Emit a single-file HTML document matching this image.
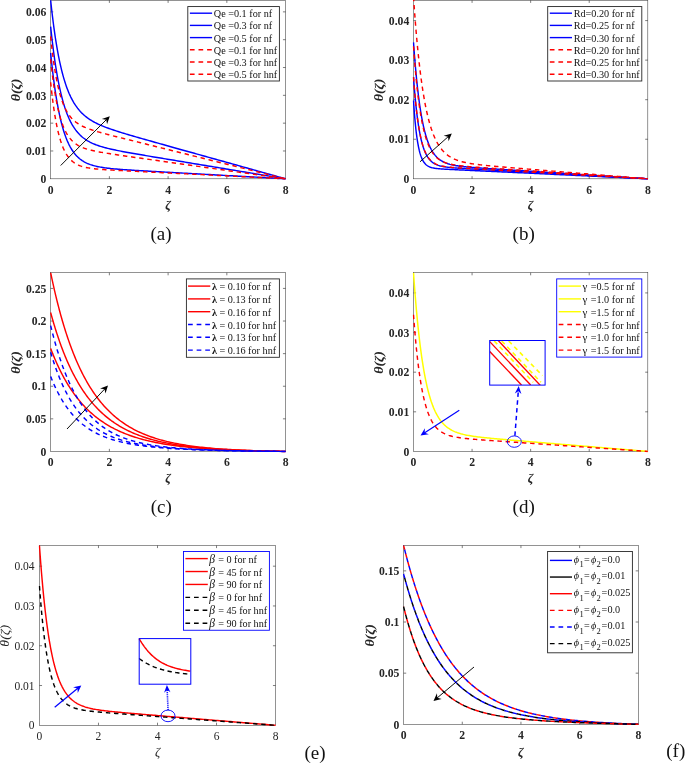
<!DOCTYPE html>
<html><head><meta charset="utf-8"><title>Figure</title><style>html,body{margin:0;padding:0;background:#fff}svg{display:block}</style></head><body>
<svg width="685" height="763" viewBox="0 0 685 763" font-family="'Liberation Serif', serif">
<rect width="685" height="763" fill="#fff"/>
<defs>
<clipPath id="ca"><rect x="49.65" y="0.00" width="236.90" height="179.80"/></clipPath>
<clipPath id="cb"><rect x="412.50" y="0.00" width="236.30" height="179.80"/></clipPath>
<clipPath id="cc"><rect x="49.65" y="272.40" width="236.90" height="180.05"/></clipPath>
<clipPath id="cd"><rect x="412.50" y="272.40" width="236.30" height="180.05"/></clipPath>
<clipPath id="ce"><rect x="38.45" y="545.20" width="238.10" height="181.10"/></clipPath>
<clipPath id="cf"><rect x="402.60" y="545.20" width="236.70" height="180.10"/></clipPath>
</defs>
<rect x="50.65" y="0.30" width="234.90" height="178.50" fill="none" stroke="#3a3a3a" stroke-width="0.55"/>
<text transform="translate(50.65 193.80) scale(1 1.14)" text-anchor="middle" font-size="11.7" font-weight="bold" fill="#262626">0</text>
<text transform="translate(109.38 193.80) scale(1 1.14)" text-anchor="middle" font-size="11.7" font-weight="bold" fill="#262626">2</text>
<text transform="translate(168.10 193.80) scale(1 1.14)" text-anchor="middle" font-size="11.7" font-weight="bold" fill="#262626">4</text>
<text transform="translate(226.83 193.80) scale(1 1.14)" text-anchor="middle" font-size="11.7" font-weight="bold" fill="#262626">6</text>
<text transform="translate(285.55 193.80) scale(1 1.14)" text-anchor="middle" font-size="11.7" font-weight="bold" fill="#262626">8</text>
<text transform="translate(46.45 183.00) scale(1 1.14)" text-anchor="end" font-size="11.7" font-weight="bold" fill="#262626">0</text>
<text transform="translate(46.45 155.18) scale(1 1.14)" text-anchor="end" font-size="11.7" font-weight="bold" fill="#262626">0.01</text>
<text transform="translate(46.45 127.36) scale(1 1.14)" text-anchor="end" font-size="11.7" font-weight="bold" fill="#262626">0.02</text>
<text transform="translate(46.45 99.54) scale(1 1.14)" text-anchor="end" font-size="11.7" font-weight="bold" fill="#262626">0.03</text>
<text transform="translate(46.45 71.72) scale(1 1.14)" text-anchor="end" font-size="11.7" font-weight="bold" fill="#262626">0.04</text>
<text transform="translate(46.45 43.89) scale(1 1.14)" text-anchor="end" font-size="11.7" font-weight="bold" fill="#262626">0.05</text>
<text transform="translate(46.45 16.07) scale(1 1.14)" text-anchor="end" font-size="11.7" font-weight="bold" fill="#262626">0.06</text>
<path d="M109.38 178.80v-2.6 M109.38 0.30v2.6 M168.10 178.80v-2.6 M168.10 0.30v2.6 M226.83 178.80v-2.6 M226.83 0.30v2.6 M50.65 150.98h2.6 M285.55 150.98h-2.6 M50.65 123.16h2.6 M285.55 123.16h-2.6 M50.65 95.34h2.6 M285.55 95.34h-2.6 M50.65 67.52h2.6 M285.55 67.52h-2.6 M50.65 39.69h2.6 M285.55 39.69h-2.6 M50.65 11.87h2.6 M285.55 11.87h-2.6" stroke="#262626" stroke-width="0.6" fill="none"/>
<text transform="translate(168.10 209.00) scale(1 1)" text-anchor="middle" font-size="12.8" font-style="italic" font-weight="bold" fill="#262626">ζ</text>
<text transform="translate(20.10 89.95) scale(1 1.12) rotate(-90)" text-anchor="middle" font-size="12.4" font-style="italic" font-weight="bold" fill="#262626">θ(ζ)</text>
<text x="161.00" y="240.00" text-anchor="middle" font-size="19" fill="#111">(a)</text>
<path d="M50.65 53.05 L50.67 53.25 L50.72 53.76 L50.80 54.52 L50.90 55.51 L51.02 56.71 L51.17 58.10 L51.33 59.67 L51.51 61.40 L51.72 63.29 L51.94 65.30 L52.18 67.45 L52.44 69.70 L52.72 72.06 L53.02 74.50 L53.33 77.01 L53.66 79.59 L54.01 82.22 L54.37 84.90 L54.75 87.60 L55.15 90.33 L55.56 93.07 L55.99 95.82 L56.44 98.55 L56.90 101.28 L57.37 103.98 L57.87 106.66 L58.37 109.30 L58.90 111.90 L59.43 114.45 L59.99 116.95 L60.55 119.40 L61.14 121.79 L61.73 124.12 L62.35 126.38 L62.97 128.57 L63.61 130.69 L64.27 132.75 L64.94 134.73 L65.62 136.63 L66.32 138.47 L67.03 140.22 L67.76 141.91 L68.50 143.52 L69.25 145.06 L70.02 146.53 L70.80 147.93 L71.60 149.26 L72.41 150.53 L73.23 151.72 L74.07 152.86 L74.92 153.93 L75.78 154.95 L76.66 155.91 L77.55 156.81 L78.45 157.66 L79.37 158.46 L80.30 159.21 L81.24 159.92 L82.19 160.58 L83.16 161.20 L84.15 161.78 L85.14 162.33 L86.15 162.84 L87.17 163.32 L88.20 163.76 L89.25 164.18 L90.31 164.57 L91.38 164.93 L92.46 165.27 L93.56 165.59 L94.67 165.89 L95.79 166.17 L96.93 166.43 L98.08 166.67 L99.24 166.90 L100.41 167.12 L101.59 167.32 L102.79 167.51 L104.00 167.69 L105.22 167.86 L106.45 168.03 L107.70 168.18 L108.96 168.32 L110.23 168.46 L111.51 168.60 L112.81 168.73 L114.11 168.85 L115.43 168.97 L116.76 169.08 L118.11 169.19 L119.46 169.30 L120.83 169.41 L122.21 169.51 L123.60 169.61 L125.00 169.71 L126.42 169.80 L127.84 169.90 L129.28 169.99 L130.73 170.09 L132.19 170.18 L133.67 170.27 L135.15 170.36 L136.65 170.46 L138.16 170.55 L139.68 170.64 L141.21 170.73 L142.76 170.82 L144.31 170.91 L145.88 171.00 L147.46 171.09 L149.05 171.18 L150.65 171.27 L152.26 171.37 L153.88 171.46 L155.52 171.55 L157.17 171.64 L158.83 171.74 L160.49 171.83 L162.18 171.93 L163.87 172.02 L165.57 172.12 L167.29 172.21 L169.01 172.31 L170.75 172.41 L172.50 172.50 L174.26 172.60 L176.03 172.70 L177.82 172.80 L179.61 172.90 L181.41 173.00 L183.23 173.10 L185.06 173.21 L186.90 173.31 L188.75 173.41 L190.61 173.51 L192.48 173.62 L194.36 173.72 L196.25 173.83 L198.16 173.94 L200.07 174.04 L202.00 174.15 L203.94 174.26 L205.89 174.37 L207.85 174.47 L209.82 174.58 L211.80 174.69 L213.79 174.81 L215.79 174.92 L217.81 175.03 L219.83 175.14 L221.87 175.26 L223.92 175.37 L225.97 175.48 L228.04 175.60 L230.12 175.71 L232.21 175.83 L234.31 175.95 L236.42 176.07 L238.54 176.18 L240.67 176.30 L242.82 176.42 L244.97 176.54 L247.14 176.66 L249.31 176.78 L251.50 176.90 L253.69 177.03 L255.90 177.15 L258.12 177.27 L260.35 177.40 L262.58 177.52 L264.83 177.65 L267.09 177.77 L269.36 177.90 L271.64 178.03 L273.94 178.15 L276.24 178.28 L278.55 178.41 L280.87 178.54 L283.21 178.67 L285.55 178.80" stroke="#0000ff" stroke-width="1.45" fill="none" stroke-linejoin="round" clip-path="url(#ca)"/>
<path d="M50.65 26.62 L50.67 26.82 L50.72 27.30 L50.80 28.03 L50.90 28.98 L51.02 30.13 L51.17 31.47 L51.33 32.98 L51.51 34.65 L51.72 36.46 L51.94 38.41 L52.18 40.48 L52.44 42.66 L52.72 44.94 L53.02 47.31 L53.33 49.76 L53.66 52.28 L54.01 54.85 L54.37 57.47 L54.75 60.13 L55.15 62.81 L55.56 65.52 L55.99 68.23 L56.44 70.95 L56.90 73.66 L57.37 76.36 L57.87 79.04 L58.37 81.69 L58.90 84.32 L59.43 86.90 L59.99 89.44 L60.55 91.94 L61.14 94.39 L61.73 96.78 L62.35 99.12 L62.97 101.40 L63.61 103.61 L64.27 105.76 L64.94 107.85 L65.62 109.87 L66.32 111.82 L67.03 113.71 L67.76 115.53 L68.50 117.28 L69.25 118.96 L70.02 120.57 L70.80 122.12 L71.60 123.61 L72.41 125.03 L73.23 126.39 L74.07 127.69 L74.92 128.93 L75.78 130.11 L76.66 131.23 L77.55 132.31 L78.45 133.33 L79.37 134.30 L80.30 135.22 L81.24 136.10 L82.19 136.94 L83.16 137.73 L84.15 138.48 L85.14 139.20 L86.15 139.88 L87.17 140.53 L88.20 141.14 L89.25 141.73 L90.31 142.29 L91.38 142.82 L92.46 143.33 L93.56 143.81 L94.67 144.27 L95.79 144.72 L96.93 145.14 L98.08 145.55 L99.24 145.94 L100.41 146.32 L101.59 146.68 L102.79 147.04 L104.00 147.38 L105.22 147.71 L106.45 148.03 L107.70 148.34 L108.96 148.65 L110.23 148.94 L111.51 149.24 L112.81 149.52 L114.11 149.81 L115.43 150.08 L116.76 150.36 L118.11 150.63 L119.46 150.90 L120.83 151.16 L122.21 151.43 L123.60 151.69 L125.00 151.95 L126.42 152.21 L127.84 152.47 L129.28 152.73 L130.73 152.99 L132.19 153.25 L133.67 153.50 L135.15 153.76 L136.65 154.02 L138.16 154.28 L139.68 154.55 L141.21 154.81 L142.76 155.07 L144.31 155.33 L145.88 155.60 L147.46 155.87 L149.05 156.13 L150.65 156.40 L152.26 156.68 L153.88 156.95 L155.52 157.22 L157.17 157.50 L158.83 157.77 L160.49 158.05 L162.18 158.33 L163.87 158.61 L165.57 158.90 L167.29 159.18 L169.01 159.47 L170.75 159.76 L172.50 160.05 L174.26 160.34 L176.03 160.64 L177.82 160.93 L179.61 161.23 L181.41 161.53 L183.23 161.83 L185.06 162.14 L186.90 162.44 L188.75 162.75 L190.61 163.06 L192.48 163.37 L194.36 163.68 L196.25 163.99 L198.16 164.31 L200.07 164.63 L202.00 164.95 L203.94 165.27 L205.89 165.59 L207.85 165.92 L209.82 166.24 L211.80 166.57 L213.79 166.90 L215.79 167.23 L217.81 167.57 L219.83 167.90 L221.87 168.24 L223.92 168.58 L225.97 168.92 L228.04 169.26 L230.12 169.61 L232.21 169.96 L234.31 170.30 L236.42 170.65 L238.54 171.01 L240.67 171.36 L242.82 171.71 L244.97 172.07 L247.14 172.43 L249.31 172.79 L251.50 173.15 L253.69 173.52 L255.90 173.88 L258.12 174.25 L260.35 174.62 L262.58 174.99 L264.83 175.36 L267.09 175.74 L269.36 176.12 L271.64 176.49 L273.94 176.87 L276.24 177.26 L278.55 177.64 L280.87 178.02 L283.21 178.41 L285.55 178.80" stroke="#0000ff" stroke-width="1.45" fill="none" stroke-linejoin="round" clip-path="url(#ca)"/>
<path d="M50.65 0.30 L50.67 0.49 L50.72 0.98 L50.80 1.70 L50.90 2.64 L51.02 3.78 L51.17 5.10 L51.33 6.59 L51.51 8.24 L51.72 10.04 L51.94 11.97 L52.18 14.03 L52.44 16.20 L52.72 18.46 L53.02 20.82 L53.33 23.26 L53.66 25.76 L54.01 28.33 L54.37 30.95 L54.75 33.60 L55.15 36.29 L55.56 39.00 L55.99 41.72 L56.44 44.45 L56.90 47.18 L57.37 49.90 L57.87 52.60 L58.37 55.28 L58.90 57.94 L59.43 60.56 L59.99 63.15 L60.55 65.69 L61.14 68.19 L61.73 70.64 L62.35 73.03 L62.97 75.37 L63.61 77.66 L64.27 79.88 L64.94 82.04 L65.62 84.14 L66.32 86.18 L67.03 88.15 L67.76 90.06 L68.50 91.90 L69.25 93.68 L70.02 95.39 L70.80 97.05 L71.60 98.64 L72.41 100.17 L73.23 101.63 L74.07 103.05 L74.92 104.40 L75.78 105.70 L76.66 106.94 L77.55 108.14 L78.45 109.28 L79.37 110.38 L80.30 111.43 L81.24 112.43 L82.19 113.39 L83.16 114.32 L84.15 115.20 L85.14 116.05 L86.15 116.86 L87.17 117.65 L88.20 118.40 L89.25 119.12 L90.31 119.81 L91.38 120.48 L92.46 121.13 L93.56 121.75 L94.67 122.36 L95.79 122.94 L96.93 123.51 L98.08 124.06 L99.24 124.60 L100.41 125.12 L101.59 125.63 L102.79 126.12 L104.00 126.61 L105.22 127.09 L106.45 127.56 L107.70 128.02 L108.96 128.48 L110.23 128.93 L111.51 129.37 L112.81 129.81 L114.11 130.25 L115.43 130.68 L116.76 131.11 L118.11 131.54 L119.46 131.97 L120.83 132.39 L122.21 132.82 L123.60 133.24 L125.00 133.67 L126.42 134.09 L127.84 134.51 L129.28 134.94 L130.73 135.36 L132.19 135.79 L133.67 136.22 L135.15 136.65 L136.65 137.08 L138.16 137.51 L139.68 137.95 L141.21 138.39 L142.76 138.83 L144.31 139.27 L145.88 139.71 L147.46 140.16 L149.05 140.61 L150.65 141.06 L152.26 141.52 L153.88 141.97 L155.52 142.43 L157.17 142.90 L158.83 143.36 L160.49 143.83 L162.18 144.30 L163.87 144.78 L165.57 145.26 L167.29 145.74 L169.01 146.22 L170.75 146.71 L172.50 147.20 L174.26 147.69 L176.03 148.18 L177.82 148.68 L179.61 149.19 L181.41 149.69 L183.23 150.20 L185.06 150.71 L186.90 151.22 L188.75 151.74 L190.61 152.26 L192.48 152.78 L194.36 153.31 L196.25 153.84 L198.16 154.37 L200.07 154.91 L202.00 155.45 L203.94 155.99 L205.89 156.53 L207.85 157.08 L209.82 157.63 L211.80 158.19 L213.79 158.74 L215.79 159.30 L217.81 159.87 L219.83 160.43 L221.87 161.00 L223.92 161.57 L225.97 162.15 L228.04 162.73 L230.12 163.31 L232.21 163.89 L234.31 164.48 L236.42 165.07 L238.54 165.66 L240.67 166.26 L242.82 166.86 L244.97 167.46 L247.14 168.06 L249.31 168.67 L251.50 169.28 L253.69 169.90 L255.90 170.51 L258.12 171.13 L260.35 171.75 L262.58 172.38 L264.83 173.01 L267.09 173.64 L269.36 174.28 L271.64 174.91 L273.94 175.55 L276.24 176.20 L278.55 176.84 L280.87 177.49 L283.21 178.14 L285.55 178.80" stroke="#0000ff" stroke-width="1.45" fill="none" stroke-linejoin="round" clip-path="url(#ca)"/>
<path d="M50.65 82.26 L50.67 82.46 L50.72 82.96 L50.80 83.71 L50.90 84.68 L51.02 85.85 L51.17 87.20 L51.33 88.72 L51.51 90.39 L51.72 92.19 L51.94 94.12 L52.18 96.15 L52.44 98.27 L52.72 100.47 L53.02 102.73 L53.33 105.04 L53.66 107.39 L54.01 109.77 L54.37 112.16 L54.75 114.56 L55.15 116.95 L55.56 119.32 L55.99 121.67 L56.44 123.99 L56.90 126.27 L57.37 128.50 L57.87 130.68 L58.37 132.81 L58.90 134.87 L59.43 136.87 L59.99 138.80 L60.55 140.66 L61.14 142.44 L61.73 144.16 L62.35 145.80 L62.97 147.36 L63.61 148.85 L64.27 150.26 L64.94 151.60 L65.62 152.87 L66.32 154.07 L67.03 155.20 L67.76 156.26 L68.50 157.26 L69.25 158.20 L70.02 159.07 L70.80 159.89 L71.60 160.66 L72.41 161.37 L73.23 162.03 L74.07 162.64 L74.92 163.21 L75.78 163.74 L76.66 164.23 L77.55 164.69 L78.45 165.10 L79.37 165.49 L80.30 165.85 L81.24 166.18 L82.19 166.48 L83.16 166.77 L84.15 167.03 L85.14 167.27 L86.15 167.49 L87.17 167.70 L88.20 167.89 L89.25 168.06 L90.31 168.23 L91.38 168.38 L92.46 168.53 L93.56 168.66 L94.67 168.79 L95.79 168.91 L96.93 169.02 L98.08 169.12 L99.24 169.23 L100.41 169.32 L101.59 169.42 L102.79 169.51 L104.00 169.59 L105.22 169.68 L106.45 169.76 L107.70 169.84 L108.96 169.92 L110.23 169.99 L111.51 170.07 L112.81 170.14 L114.11 170.22 L115.43 170.29 L116.76 170.36 L118.11 170.44 L119.46 170.51 L120.83 170.58 L122.21 170.65 L123.60 170.73 L125.00 170.80 L126.42 170.87 L127.84 170.94 L129.28 171.02 L130.73 171.09 L132.19 171.16 L133.67 171.24 L135.15 171.31 L136.65 171.39 L138.16 171.46 L139.68 171.54 L141.21 171.62 L142.76 171.69 L144.31 171.77 L145.88 171.85 L147.46 171.93 L149.05 172.01 L150.65 172.09 L152.26 172.17 L153.88 172.25 L155.52 172.33 L157.17 172.41 L158.83 172.50 L160.49 172.58 L162.18 172.66 L163.87 172.75 L165.57 172.83 L167.29 172.92 L169.01 173.00 L170.75 173.09 L172.50 173.18 L174.26 173.26 L176.03 173.35 L177.82 173.44 L179.61 173.53 L181.41 173.62 L183.23 173.71 L185.06 173.80 L186.90 173.89 L188.75 173.98 L190.61 174.08 L192.48 174.17 L194.36 174.26 L196.25 174.36 L198.16 174.45 L200.07 174.55 L202.00 174.64 L203.94 174.74 L205.89 174.84 L207.85 174.93 L209.82 175.03 L211.80 175.13 L213.79 175.23 L215.79 175.33 L217.81 175.43 L219.83 175.53 L221.87 175.63 L223.92 175.73 L225.97 175.84 L228.04 175.94 L230.12 176.04 L232.21 176.15 L234.31 176.25 L236.42 176.36 L238.54 176.46 L240.67 176.57 L242.82 176.67 L244.97 176.78 L247.14 176.89 L249.31 177.00 L251.50 177.11 L253.69 177.22 L255.90 177.33 L258.12 177.44 L260.35 177.55 L262.58 177.66 L264.83 177.77 L267.09 177.88 L269.36 177.99 L271.64 178.11 L273.94 178.22 L276.24 178.34 L278.55 178.45 L280.87 178.57 L283.21 178.68 L285.55 178.80" stroke="#ff0000" stroke-width="1.45" stroke-dasharray="4.4 3.8" fill="none" stroke-linejoin="round" clip-path="url(#ca)"/>
<path d="M50.65 59.17 L50.67 59.37 L50.72 59.87 L50.80 60.61 L50.90 61.58 L51.02 62.75 L51.17 64.10 L51.33 65.61 L51.51 67.28 L51.72 69.09 L51.94 71.01 L52.18 73.05 L52.44 75.18 L52.72 77.38 L53.02 79.66 L53.33 81.99 L53.66 84.36 L54.01 86.76 L54.37 89.19 L54.75 91.62 L55.15 94.05 L55.56 96.46 L55.99 98.86 L56.44 101.23 L56.90 103.57 L57.37 105.87 L57.87 108.12 L58.37 110.31 L58.90 112.45 L59.43 114.53 L59.99 116.54 L60.55 118.49 L61.14 120.37 L61.73 122.18 L62.35 123.91 L62.97 125.58 L63.61 127.17 L64.27 128.69 L64.94 130.14 L65.62 131.51 L66.32 132.82 L67.03 134.06 L67.76 135.24 L68.50 136.35 L69.25 137.40 L70.02 138.39 L70.80 139.32 L71.60 140.20 L72.41 141.03 L73.23 141.81 L74.07 142.54 L74.92 143.22 L75.78 143.87 L76.66 144.47 L77.55 145.04 L78.45 145.57 L79.37 146.08 L80.30 146.55 L81.24 146.99 L82.19 147.41 L83.16 147.80 L84.15 148.18 L85.14 148.53 L86.15 148.86 L87.17 149.18 L88.20 149.48 L89.25 149.77 L90.31 150.05 L91.38 150.32 L92.46 150.57 L93.56 150.82 L94.67 151.06 L95.79 151.29 L96.93 151.52 L98.08 151.74 L99.24 151.95 L100.41 152.17 L101.59 152.37 L102.79 152.58 L104.00 152.78 L105.22 152.98 L106.45 153.18 L107.70 153.38 L108.96 153.58 L110.23 153.78 L111.51 153.97 L112.81 154.17 L114.11 154.37 L115.43 154.56 L116.76 154.76 L118.11 154.96 L119.46 155.16 L120.83 155.36 L122.21 155.56 L123.60 155.76 L125.00 155.96 L126.42 156.17 L127.84 156.37 L129.28 156.58 L130.73 156.79 L132.19 157.00 L133.67 157.21 L135.15 157.42 L136.65 157.63 L138.16 157.85 L139.68 158.06 L141.21 158.28 L142.76 158.50 L144.31 158.72 L145.88 158.95 L147.46 159.17 L149.05 159.40 L150.65 159.63 L152.26 159.86 L153.88 160.09 L155.52 160.32 L157.17 160.55 L158.83 160.79 L160.49 161.03 L162.18 161.27 L163.87 161.51 L165.57 161.75 L167.29 161.99 L169.01 162.24 L170.75 162.48 L172.50 162.73 L174.26 162.98 L176.03 163.23 L177.82 163.49 L179.61 163.74 L181.41 164.00 L183.23 164.26 L185.06 164.52 L186.90 164.78 L188.75 165.04 L190.61 165.31 L192.48 165.57 L194.36 165.84 L196.25 166.11 L198.16 166.38 L200.07 166.65 L202.00 166.93 L203.94 167.20 L205.89 167.48 L207.85 167.76 L209.82 168.04 L211.80 168.32 L213.79 168.60 L215.79 168.89 L217.81 169.17 L219.83 169.46 L221.87 169.75 L223.92 170.04 L225.97 170.33 L228.04 170.63 L230.12 170.92 L232.21 171.22 L234.31 171.52 L236.42 171.82 L238.54 172.12 L240.67 172.42 L242.82 172.73 L244.97 173.03 L247.14 173.34 L249.31 173.65 L251.50 173.96 L253.69 174.27 L255.90 174.59 L258.12 174.90 L260.35 175.22 L262.58 175.54 L264.83 175.86 L267.09 176.18 L269.36 176.50 L271.64 176.82 L273.94 177.15 L276.24 177.48 L278.55 177.81 L280.87 178.14 L283.21 178.47 L285.55 178.80" stroke="#ff0000" stroke-width="1.45" stroke-dasharray="4.4 3.8" fill="none" stroke-linejoin="round" clip-path="url(#ca)"/>
<path d="M50.65 36.36 L50.67 36.56 L50.72 37.06 L50.80 37.82 L50.90 38.80 L51.02 39.98 L51.17 41.35 L51.33 42.89 L51.51 44.58 L51.72 46.41 L51.94 48.36 L52.18 50.41 L52.44 52.57 L52.72 54.80 L53.02 57.10 L53.33 59.45 L53.66 61.84 L54.01 64.26 L54.37 66.71 L54.75 69.15 L55.15 71.60 L55.56 74.03 L55.99 76.45 L56.44 78.83 L56.90 81.18 L57.37 83.48 L57.87 85.74 L58.37 87.95 L58.90 90.09 L59.43 92.18 L59.99 94.20 L60.55 96.15 L61.14 98.04 L61.73 99.85 L62.35 101.60 L62.97 103.27 L63.61 104.87 L64.27 106.41 L64.94 107.87 L65.62 109.26 L66.32 110.59 L67.03 111.85 L67.76 113.04 L68.50 114.18 L69.25 115.26 L70.02 116.28 L70.80 117.24 L71.60 118.16 L72.41 119.02 L73.23 119.84 L74.07 120.62 L74.92 121.35 L75.78 122.05 L76.66 122.71 L77.55 123.33 L78.45 123.93 L79.37 124.50 L80.30 125.04 L81.24 125.55 L82.19 126.04 L83.16 126.52 L84.15 126.97 L85.14 127.41 L86.15 127.83 L87.17 128.23 L88.20 128.63 L89.25 129.01 L90.31 129.39 L91.38 129.75 L92.46 130.11 L93.56 130.46 L94.67 130.81 L95.79 131.15 L96.93 131.49 L98.08 131.83 L99.24 132.16 L100.41 132.49 L101.59 132.82 L102.79 133.14 L104.00 133.47 L105.22 133.80 L106.45 134.12 L107.70 134.45 L108.96 134.78 L110.23 135.11 L111.51 135.44 L112.81 135.77 L114.11 136.11 L115.43 136.44 L116.76 136.78 L118.11 137.12 L119.46 137.46 L120.83 137.81 L122.21 138.15 L123.60 138.50 L125.00 138.85 L126.42 139.21 L127.84 139.56 L129.28 139.92 L130.73 140.29 L132.19 140.65 L133.67 141.02 L135.15 141.39 L136.65 141.76 L138.16 142.14 L139.68 142.52 L141.21 142.90 L142.76 143.28 L144.31 143.67 L145.88 144.06 L147.46 144.45 L149.05 144.85 L150.65 145.25 L152.26 145.65 L153.88 146.05 L155.52 146.46 L157.17 146.87 L158.83 147.28 L160.49 147.70 L162.18 148.11 L163.87 148.54 L165.57 148.96 L167.29 149.39 L169.01 149.82 L170.75 150.25 L172.50 150.68 L174.26 151.12 L176.03 151.56 L177.82 152.00 L179.61 152.45 L181.41 152.90 L183.23 153.35 L185.06 153.81 L186.90 154.26 L188.75 154.72 L190.61 155.19 L192.48 155.65 L194.36 156.12 L196.25 156.59 L198.16 157.06 L200.07 157.54 L202.00 158.02 L203.94 158.50 L205.89 158.99 L207.85 159.47 L209.82 159.96 L211.80 160.46 L213.79 160.95 L215.79 161.45 L217.81 161.95 L219.83 162.45 L221.87 162.96 L223.92 163.47 L225.97 163.98 L228.04 164.50 L230.12 165.01 L232.21 165.53 L234.31 166.06 L236.42 166.58 L238.54 167.11 L240.67 167.64 L242.82 168.17 L244.97 168.71 L247.14 169.25 L249.31 169.79 L251.50 170.33 L253.69 170.88 L255.90 171.43 L258.12 171.98 L260.35 172.53 L262.58 173.09 L264.83 173.65 L267.09 174.21 L269.36 174.77 L271.64 175.34 L273.94 175.91 L276.24 176.48 L278.55 177.06 L280.87 177.64 L283.21 178.22 L285.55 178.80" stroke="#ff0000" stroke-width="1.45" stroke-dasharray="4.4 3.8" fill="none" stroke-linejoin="round" clip-path="url(#ca)"/>
<path d="M60.70 165.50L106.58 119.43" stroke="#000000" stroke-width="0.95" fill="none"/>
<path d="M109.80 116.20L107.06 124.20L106.26 119.75L101.82 118.97Z" fill="#000000"/>
<rect x="187.80" y="6.57" width="91.60" height="74.43" fill="#fff" stroke="#262626" stroke-width="0.9"/>
<path d="M189.90 13.20H212.10" stroke="#0000ff" stroke-width="1.4" fill="none"/>
<text x="213.80" y="17.20" font-size="10.2" fill="#111" style="white-space:pre">Qe =0.1 for nf</text>
<path d="M189.90 25.40H212.10" stroke="#0000ff" stroke-width="1.4" fill="none"/>
<text x="213.80" y="29.40" font-size="10.2" fill="#111" style="white-space:pre">Qe =0.3 for nf</text>
<path d="M189.90 37.60H212.10" stroke="#0000ff" stroke-width="1.4" fill="none"/>
<text x="213.80" y="41.60" font-size="10.2" fill="#111" style="white-space:pre">Qe =0.5 for nf</text>
<path d="M189.90 49.80H212.10" stroke="#ff0000" stroke-width="1.4" stroke-dasharray="4.7 3.9" fill="none"/>
<text x="213.80" y="53.80" font-size="10.2" fill="#111" style="white-space:pre">Qe =0.1 for hnf</text>
<path d="M189.90 62.00H212.10" stroke="#ff0000" stroke-width="1.4" stroke-dasharray="4.7 3.9" fill="none"/>
<text x="213.80" y="66.00" font-size="10.2" fill="#111" style="white-space:pre">Qe =0.3 for hnf</text>
<path d="M189.90 74.20H212.10" stroke="#ff0000" stroke-width="1.4" stroke-dasharray="4.7 3.9" fill="none"/>
<text x="213.80" y="78.20" font-size="10.2" fill="#111" style="white-space:pre">Qe =0.5 for hnf</text>
<rect x="413.50" y="0.30" width="234.30" height="178.50" fill="none" stroke="#3a3a3a" stroke-width="0.55"/>
<text transform="translate(413.50 193.80) scale(1 1.14)" text-anchor="middle" font-size="11.7" font-weight="bold" fill="#262626">0</text>
<text transform="translate(472.07 193.80) scale(1 1.14)" text-anchor="middle" font-size="11.7" font-weight="bold" fill="#262626">2</text>
<text transform="translate(530.65 193.80) scale(1 1.14)" text-anchor="middle" font-size="11.7" font-weight="bold" fill="#262626">4</text>
<text transform="translate(589.22 193.80) scale(1 1.14)" text-anchor="middle" font-size="11.7" font-weight="bold" fill="#262626">6</text>
<text transform="translate(647.80 193.80) scale(1 1.14)" text-anchor="middle" font-size="11.7" font-weight="bold" fill="#262626">8</text>
<text transform="translate(409.30 183.00) scale(1 1.14)" text-anchor="end" font-size="11.7" font-weight="bold" fill="#262626">0</text>
<text transform="translate(409.30 143.45) scale(1 1.14)" text-anchor="end" font-size="11.7" font-weight="bold" fill="#262626">0.01</text>
<text transform="translate(409.30 103.90) scale(1 1.14)" text-anchor="end" font-size="11.7" font-weight="bold" fill="#262626">0.02</text>
<text transform="translate(409.30 64.34) scale(1 1.14)" text-anchor="end" font-size="11.7" font-weight="bold" fill="#262626">0.03</text>
<text transform="translate(409.30 24.79) scale(1 1.14)" text-anchor="end" font-size="11.7" font-weight="bold" fill="#262626">0.04</text>
<path d="M472.07 178.80v-2.6 M472.07 0.30v2.6 M530.65 178.80v-2.6 M530.65 0.30v2.6 M589.22 178.80v-2.6 M589.22 0.30v2.6 M413.50 139.25h2.6 M647.80 139.25h-2.6 M413.50 99.70h2.6 M647.80 99.70h-2.6 M413.50 60.14h2.6 M647.80 60.14h-2.6 M413.50 20.59h2.6 M647.80 20.59h-2.6" stroke="#262626" stroke-width="0.6" fill="none"/>
<text transform="translate(530.65 209.00) scale(1 1)" text-anchor="middle" font-size="12.8" font-style="italic" font-weight="bold" fill="#262626">ζ</text>
<text transform="translate(383.00 89.95) scale(1 1.12) rotate(-90)" text-anchor="middle" font-size="12.4" font-style="italic" font-weight="bold" fill="#262626">θ(ζ)</text>
<text x="523.70" y="240.20" text-anchor="middle" font-size="19" fill="#111">(b)</text>
<path d="M413.50 100.49 L413.52 100.81 L413.57 101.59 L413.65 102.76 L413.75 104.26 L413.87 106.04 L414.01 108.07 L414.18 110.32 L414.36 112.73 L414.57 115.28 L414.79 117.94 L415.03 120.67 L415.29 123.43 L415.57 126.22 L415.86 128.98 L416.17 131.72 L416.50 134.39 L416.85 137.00 L417.21 139.51 L417.59 141.92 L417.99 144.22 L418.40 146.41 L418.83 148.47 L419.27 150.40 L419.73 152.20 L420.21 153.88 L420.70 155.42 L421.20 156.85 L421.73 158.16 L422.26 159.35 L422.81 160.43 L423.38 161.41 L423.96 162.29 L424.56 163.09 L425.17 163.80 L425.79 164.43 L426.43 165.00 L427.08 165.50 L427.75 165.94 L428.43 166.33 L429.13 166.68 L429.84 166.98 L430.57 167.25 L431.30 167.49 L432.06 167.70 L432.82 167.88 L433.60 168.04 L434.40 168.19 L435.20 168.32 L436.02 168.43 L436.86 168.53 L437.71 168.63 L438.57 168.71 L439.44 168.79 L440.33 168.86 L441.23 168.93 L442.14 168.99 L443.07 169.05 L444.01 169.11 L444.96 169.17 L445.93 169.22 L446.91 169.28 L447.90 169.33 L448.91 169.38 L449.93 169.43 L450.96 169.48 L452.00 169.54 L453.06 169.59 L454.13 169.64 L455.21 169.69 L456.30 169.75 L457.41 169.80 L458.53 169.85 L459.66 169.91 L460.80 169.96 L461.96 170.02 L463.13 170.07 L464.31 170.13 L465.51 170.18 L466.71 170.24 L467.93 170.30 L469.16 170.36 L470.40 170.41 L471.66 170.47 L472.93 170.53 L474.21 170.59 L475.50 170.66 L476.80 170.72 L478.12 170.78 L479.45 170.84 L480.79 170.91 L482.14 170.97 L483.50 171.03 L484.88 171.10 L486.26 171.16 L487.66 171.23 L489.07 171.30 L490.50 171.36 L491.93 171.43 L493.38 171.50 L494.84 171.57 L496.31 171.64 L497.79 171.71 L499.28 171.78 L500.79 171.85 L502.30 171.92 L503.83 171.99 L505.37 172.07 L506.92 172.14 L508.48 172.21 L510.06 172.29 L511.64 172.36 L513.24 172.44 L514.85 172.52 L516.47 172.59 L518.10 172.67 L519.74 172.75 L521.40 172.83 L523.06 172.90 L524.74 172.98 L526.43 173.06 L528.13 173.14 L529.84 173.22 L531.56 173.31 L533.30 173.39 L535.04 173.47 L536.80 173.55 L538.56 173.64 L540.34 173.72 L542.13 173.81 L543.93 173.89 L545.74 173.98 L547.56 174.06 L549.40 174.15 L551.24 174.24 L553.10 174.32 L554.97 174.41 L556.84 174.50 L558.73 174.59 L560.63 174.68 L562.54 174.77 L564.46 174.86 L566.40 174.95 L568.34 175.04 L570.30 175.14 L572.26 175.23 L574.24 175.32 L576.22 175.42 L578.22 175.51 L580.23 175.61 L582.25 175.70 L584.28 175.80 L586.32 175.89 L588.37 175.99 L590.44 176.09 L592.51 176.19 L594.59 176.29 L596.69 176.38 L598.80 176.48 L600.91 176.58 L603.04 176.68 L605.18 176.79 L607.32 176.89 L609.48 176.99 L611.65 177.09 L613.83 177.19 L616.02 177.30 L618.23 177.40 L620.44 177.51 L622.66 177.61 L624.89 177.72 L627.14 177.82 L629.39 177.93 L631.65 178.04 L633.93 178.14 L636.22 178.25 L638.51 178.36 L640.82 178.47 L643.13 178.58 L645.46 178.69 L647.80 178.80" stroke="#0000ff" stroke-width="1.45" fill="none" stroke-linejoin="round" clip-path="url(#cb)"/>
<path d="M413.50 77.15 L413.52 77.44 L413.57 78.14 L413.65 79.19 L413.75 80.55 L413.87 82.18 L414.01 84.05 L414.18 86.14 L414.36 88.43 L414.57 90.87 L414.79 93.46 L415.03 96.16 L415.29 98.96 L415.57 101.83 L415.86 104.74 L416.17 107.69 L416.50 110.64 L416.85 113.59 L417.21 116.51 L417.59 119.39 L417.99 122.22 L418.40 124.99 L418.83 127.68 L419.27 130.29 L419.73 132.81 L420.21 135.23 L420.70 137.55 L421.20 139.76 L421.73 141.86 L422.26 143.86 L422.81 145.75 L423.38 147.53 L423.96 149.20 L424.56 150.76 L425.17 152.22 L425.79 153.58 L426.43 154.84 L427.08 156.01 L427.75 157.10 L428.43 158.09 L429.13 159.01 L429.84 159.85 L430.57 160.63 L431.30 161.33 L432.06 161.98 L432.82 162.56 L433.60 163.10 L434.40 163.58 L435.20 164.03 L436.02 164.43 L436.86 164.79 L437.71 165.12 L438.57 165.42 L439.44 165.69 L440.33 165.93 L441.23 166.15 L442.14 166.36 L443.07 166.54 L444.01 166.71 L444.96 166.87 L445.93 167.01 L446.91 167.14 L447.90 167.27 L448.91 167.38 L449.93 167.49 L450.96 167.59 L452.00 167.68 L453.06 167.77 L454.13 167.86 L455.21 167.94 L456.30 168.03 L457.41 168.10 L458.53 168.18 L459.66 168.26 L460.80 168.33 L461.96 168.40 L463.13 168.48 L464.31 168.55 L465.51 168.62 L466.71 168.69 L467.93 168.76 L469.16 168.83 L470.40 168.91 L471.66 168.98 L472.93 169.05 L474.21 169.12 L475.50 169.20 L476.80 169.27 L478.12 169.34 L479.45 169.42 L480.79 169.49 L482.14 169.57 L483.50 169.65 L484.88 169.72 L486.26 169.80 L487.66 169.88 L489.07 169.96 L490.50 170.04 L491.93 170.12 L493.38 170.20 L494.84 170.28 L496.31 170.36 L497.79 170.44 L499.28 170.53 L500.79 170.61 L502.30 170.69 L503.83 170.78 L505.37 170.87 L506.92 170.95 L508.48 171.04 L510.06 171.13 L511.64 171.22 L513.24 171.30 L514.85 171.39 L516.47 171.48 L518.10 171.57 L519.74 171.67 L521.40 171.76 L523.06 171.85 L524.74 171.94 L526.43 172.04 L528.13 172.13 L529.84 172.23 L531.56 172.32 L533.30 172.42 L535.04 172.52 L536.80 172.62 L538.56 172.71 L540.34 172.81 L542.13 172.91 L543.93 173.01 L545.74 173.11 L547.56 173.22 L549.40 173.32 L551.24 173.42 L553.10 173.52 L554.97 173.63 L556.84 173.73 L558.73 173.84 L560.63 173.94 L562.54 174.05 L564.46 174.16 L566.40 174.27 L568.34 174.37 L570.30 174.48 L572.26 174.59 L574.24 174.70 L576.22 174.81 L578.22 174.92 L580.23 175.04 L582.25 175.15 L584.28 175.26 L586.32 175.38 L588.37 175.49 L590.44 175.60 L592.51 175.72 L594.59 175.84 L596.69 175.95 L598.80 176.07 L600.91 176.19 L603.04 176.31 L605.18 176.43 L607.32 176.55 L609.48 176.67 L611.65 176.79 L613.83 176.91 L616.02 177.03 L618.23 177.15 L620.44 177.28 L622.66 177.40 L624.89 177.52 L627.14 177.65 L629.39 177.77 L631.65 177.90 L633.93 178.03 L636.22 178.15 L638.51 178.28 L640.82 178.41 L643.13 178.54 L645.46 178.67 L647.80 178.80" stroke="#0000ff" stroke-width="1.45" fill="none" stroke-linejoin="round" clip-path="url(#cb)"/>
<path d="M413.50 42.34 L413.52 42.63 L413.57 43.35 L413.65 44.42 L413.75 45.80 L413.87 47.48 L414.01 49.41 L414.18 51.58 L414.36 53.97 L414.57 56.55 L414.79 59.30 L415.03 62.21 L415.29 65.24 L415.57 68.38 L415.86 71.62 L416.17 74.93 L416.50 78.29 L416.85 81.69 L417.21 85.11 L417.59 88.53 L417.99 91.95 L418.40 95.34 L418.83 98.70 L419.27 102.02 L419.73 105.27 L420.21 108.47 L420.70 111.58 L421.20 114.62 L421.73 117.57 L422.26 120.42 L422.81 123.18 L423.38 125.84 L423.96 128.39 L424.56 130.84 L425.17 133.18 L425.79 135.41 L426.43 137.54 L427.08 139.56 L427.75 141.47 L428.43 143.28 L429.13 144.99 L429.84 146.60 L430.57 148.12 L431.30 149.54 L432.06 150.88 L432.82 152.12 L433.60 153.29 L434.40 154.38 L435.20 155.39 L436.02 156.33 L436.86 157.20 L437.71 158.01 L438.57 158.76 L439.44 159.46 L440.33 160.10 L441.23 160.69 L442.14 161.24 L443.07 161.75 L444.01 162.21 L444.96 162.64 L445.93 163.04 L446.91 163.40 L447.90 163.74 L448.91 164.05 L449.93 164.34 L450.96 164.60 L452.00 164.85 L453.06 165.08 L454.13 165.29 L455.21 165.49 L456.30 165.67 L457.41 165.84 L458.53 166.01 L459.66 166.16 L460.80 166.30 L461.96 166.44 L463.13 166.57 L464.31 166.70 L465.51 166.82 L466.71 166.93 L467.93 167.04 L469.16 167.15 L470.40 167.26 L471.66 167.36 L472.93 167.46 L474.21 167.56 L475.50 167.66 L476.80 167.75 L478.12 167.85 L479.45 167.94 L480.79 168.04 L482.14 168.13 L483.50 168.22 L484.88 168.32 L486.26 168.41 L487.66 168.51 L489.07 168.60 L490.50 168.69 L491.93 168.79 L493.38 168.88 L494.84 168.98 L496.31 169.07 L497.79 169.17 L499.28 169.27 L500.79 169.36 L502.30 169.46 L503.83 169.56 L505.37 169.66 L506.92 169.76 L508.48 169.86 L510.06 169.96 L511.64 170.06 L513.24 170.17 L514.85 170.27 L516.47 170.37 L518.10 170.48 L519.74 170.58 L521.40 170.69 L523.06 170.80 L524.74 170.91 L526.43 171.01 L528.13 171.12 L529.84 171.23 L531.56 171.34 L533.30 171.45 L535.04 171.57 L536.80 171.68 L538.56 171.79 L540.34 171.91 L542.13 172.02 L543.93 172.14 L545.74 172.25 L547.56 172.37 L549.40 172.49 L551.24 172.61 L553.10 172.73 L554.97 172.84 L556.84 172.97 L558.73 173.09 L560.63 173.21 L562.54 173.33 L564.46 173.45 L566.40 173.58 L568.34 173.70 L570.30 173.83 L572.26 173.95 L574.24 174.08 L576.22 174.21 L578.22 174.34 L580.23 174.47 L582.25 174.60 L584.28 174.73 L586.32 174.86 L588.37 174.99 L590.44 175.12 L592.51 175.25 L594.59 175.39 L596.69 175.52 L598.80 175.66 L600.91 175.79 L603.04 175.93 L605.18 176.07 L607.32 176.20 L609.48 176.34 L611.65 176.48 L613.83 176.62 L616.02 176.76 L618.23 176.90 L620.44 177.04 L622.66 177.19 L624.89 177.33 L627.14 177.47 L629.39 177.62 L631.65 177.76 L633.93 177.91 L636.22 178.06 L638.51 178.20 L640.82 178.35 L643.13 178.50 L645.46 178.65 L647.80 178.80" stroke="#0000ff" stroke-width="1.45" fill="none" stroke-linejoin="round" clip-path="url(#cb)"/>
<path d="M413.50 77.15 L413.52 77.43 L413.57 78.13 L413.65 79.18 L413.75 80.53 L413.87 82.15 L414.01 84.02 L414.18 86.10 L414.36 88.38 L414.57 90.81 L414.79 93.39 L415.03 96.08 L415.29 98.87 L415.57 101.72 L415.86 104.63 L416.17 107.56 L416.50 110.50 L416.85 113.43 L417.21 116.34 L417.59 119.21 L417.99 122.03 L418.40 124.78 L418.83 127.47 L419.27 130.06 L419.73 132.57 L420.21 134.98 L420.70 137.29 L421.20 139.49 L421.73 141.59 L422.26 143.58 L422.81 145.46 L423.38 147.23 L423.96 148.89 L424.56 150.45 L425.17 151.91 L425.79 153.26 L426.43 154.52 L427.08 155.69 L427.75 156.77 L428.43 157.76 L429.13 158.68 L429.84 159.52 L430.57 160.29 L431.30 160.99 L432.06 161.63 L432.82 162.22 L433.60 162.75 L434.40 163.24 L435.20 163.68 L436.02 164.08 L436.86 164.44 L437.71 164.77 L438.57 165.07 L439.44 165.34 L440.33 165.59 L441.23 165.81 L442.14 166.02 L443.07 166.20 L444.01 166.37 L444.96 166.53 L445.93 166.67 L446.91 166.81 L447.90 166.93 L448.91 167.05 L449.93 167.15 L450.96 167.26 L452.00 167.35 L453.06 167.45 L454.13 167.53 L455.21 167.62 L456.30 167.70 L457.41 167.78 L458.53 167.86 L459.66 167.94 L460.80 168.01 L461.96 168.09 L463.13 168.16 L464.31 168.24 L465.51 168.31 L466.71 168.39 L467.93 168.46 L469.16 168.53 L470.40 168.61 L471.66 168.68 L472.93 168.76 L474.21 168.83 L475.50 168.91 L476.80 168.98 L478.12 169.06 L479.45 169.13 L480.79 169.21 L482.14 169.29 L483.50 169.37 L484.88 169.45 L486.26 169.53 L487.66 169.61 L489.07 169.69 L490.50 169.77 L491.93 169.85 L493.38 169.94 L494.84 170.02 L496.31 170.10 L497.79 170.19 L499.28 170.28 L500.79 170.36 L502.30 170.45 L503.83 170.54 L505.37 170.63 L506.92 170.71 L508.48 170.80 L510.06 170.89 L511.64 170.99 L513.24 171.08 L514.85 171.17 L516.47 171.26 L518.10 171.36 L519.74 171.45 L521.40 171.55 L523.06 171.64 L524.74 171.74 L526.43 171.83 L528.13 171.93 L529.84 172.03 L531.56 172.13 L533.30 172.23 L535.04 172.33 L536.80 172.43 L538.56 172.53 L540.34 172.63 L542.13 172.74 L543.93 172.84 L545.74 172.94 L547.56 173.05 L549.40 173.15 L551.24 173.26 L553.10 173.36 L554.97 173.47 L556.84 173.58 L558.73 173.69 L560.63 173.80 L562.54 173.91 L564.46 174.02 L566.40 174.13 L568.34 174.24 L570.30 174.35 L572.26 174.46 L574.24 174.58 L576.22 174.69 L578.22 174.81 L580.23 174.92 L582.25 175.04 L584.28 175.15 L586.32 175.27 L588.37 175.39 L590.44 175.51 L592.51 175.63 L594.59 175.75 L596.69 175.87 L598.80 175.99 L600.91 176.11 L603.04 176.23 L605.18 176.35 L607.32 176.48 L609.48 176.60 L611.65 176.73 L613.83 176.85 L616.02 176.98 L618.23 177.10 L620.44 177.23 L622.66 177.36 L624.89 177.49 L627.14 177.61 L629.39 177.74 L631.65 177.87 L633.93 178.00 L636.22 178.14 L638.51 178.27 L640.82 178.40 L643.13 178.53 L645.46 178.67 L647.80 178.80" stroke="#ff0000" stroke-width="1.45" stroke-dasharray="4.4 3.8" fill="none" stroke-linejoin="round" clip-path="url(#cb)"/>
<path d="M413.50 46.30 L413.52 46.59 L413.57 47.31 L413.65 48.38 L413.75 49.77 L413.87 51.44 L414.01 53.38 L414.18 55.56 L414.36 57.94 L414.57 60.52 L414.79 63.27 L415.03 66.16 L415.29 69.18 L415.57 72.30 L415.86 75.51 L416.17 78.79 L416.50 82.11 L416.85 85.47 L417.21 88.84 L417.59 92.21 L417.99 95.57 L418.40 98.89 L418.83 102.18 L419.27 105.41 L419.73 108.58 L420.21 111.68 L420.70 114.71 L421.20 117.64 L421.73 120.48 L422.26 123.23 L422.81 125.87 L423.38 128.42 L423.96 130.85 L424.56 133.18 L425.17 135.40 L425.79 137.51 L426.43 139.51 L427.08 141.41 L427.75 143.21 L428.43 144.90 L429.13 146.49 L429.84 147.99 L430.57 149.39 L431.30 150.70 L432.06 151.93 L432.82 153.07 L433.60 154.13 L434.40 155.12 L435.20 156.04 L436.02 156.89 L436.86 157.68 L437.71 158.41 L438.57 159.08 L439.44 159.70 L440.33 160.28 L441.23 160.80 L442.14 161.29 L443.07 161.74 L444.01 162.15 L444.96 162.53 L445.93 162.88 L446.91 163.20 L447.90 163.50 L448.91 163.77 L449.93 164.03 L450.96 164.26 L452.00 164.48 L453.06 164.68 L454.13 164.87 L455.21 165.05 L456.30 165.22 L457.41 165.37 L458.53 165.52 L459.66 165.66 L460.80 165.80 L461.96 165.92 L463.13 166.05 L464.31 166.16 L465.51 166.28 L466.71 166.39 L467.93 166.50 L469.16 166.60 L470.40 166.70 L471.66 166.80 L472.93 166.90 L474.21 167.00 L475.50 167.10 L476.80 167.20 L478.12 167.30 L479.45 167.39 L480.79 167.49 L482.14 167.59 L483.50 167.68 L484.88 167.78 L486.26 167.88 L487.66 167.97 L489.07 168.07 L490.50 168.17 L491.93 168.27 L493.38 168.37 L494.84 168.47 L496.31 168.57 L497.79 168.67 L499.28 168.77 L500.79 168.87 L502.30 168.97 L503.83 169.08 L505.37 169.18 L506.92 169.29 L508.48 169.39 L510.06 169.50 L511.64 169.61 L513.24 169.71 L514.85 169.82 L516.47 169.93 L518.10 170.04 L519.74 170.15 L521.40 170.26 L523.06 170.38 L524.74 170.49 L526.43 170.60 L528.13 170.72 L529.84 170.83 L531.56 170.95 L533.30 171.07 L535.04 171.19 L536.80 171.30 L538.56 171.42 L540.34 171.54 L542.13 171.66 L543.93 171.79 L545.74 171.91 L547.56 172.03 L549.40 172.16 L551.24 172.28 L553.10 172.41 L554.97 172.53 L556.84 172.66 L558.73 172.79 L560.63 172.91 L562.54 173.04 L564.46 173.17 L566.40 173.30 L568.34 173.43 L570.30 173.57 L572.26 173.70 L574.24 173.83 L576.22 173.97 L578.22 174.10 L580.23 174.24 L582.25 174.37 L584.28 174.51 L586.32 174.65 L588.37 174.79 L590.44 174.93 L592.51 175.07 L594.59 175.21 L596.69 175.35 L598.80 175.49 L600.91 175.63 L603.04 175.78 L605.18 175.92 L607.32 176.07 L609.48 176.21 L611.65 176.36 L613.83 176.51 L616.02 176.65 L618.23 176.80 L620.44 176.95 L622.66 177.10 L624.89 177.25 L627.14 177.40 L629.39 177.56 L631.65 177.71 L633.93 177.86 L636.22 178.02 L638.51 178.17 L640.82 178.33 L643.13 178.48 L645.46 178.64 L647.80 178.80" stroke="#ff0000" stroke-width="1.45" stroke-dasharray="4.4 3.8" fill="none" stroke-linejoin="round" clip-path="url(#cb)"/>
<path d="M413.50 -3.14 L413.52 -2.84 L413.57 -2.09 L413.65 -0.97 L413.75 0.49 L413.87 2.26 L414.01 4.31 L414.18 6.62 L414.36 9.16 L414.57 11.93 L414.79 14.90 L415.03 18.05 L415.29 21.37 L415.57 24.83 L415.86 28.41 L416.17 32.10 L416.50 35.89 L416.85 39.74 L417.21 43.66 L417.59 47.63 L417.99 51.62 L418.40 55.62 L418.83 59.63 L419.27 63.63 L419.73 67.60 L420.21 71.54 L420.70 75.44 L421.20 79.28 L421.73 83.06 L422.26 86.77 L422.81 90.41 L423.38 93.96 L423.96 97.42 L424.56 100.79 L425.17 104.06 L425.79 107.22 L426.43 110.29 L427.08 113.24 L427.75 116.09 L428.43 118.84 L429.13 121.47 L429.84 123.99 L430.57 126.41 L431.30 128.72 L432.06 130.92 L432.82 133.02 L433.60 135.01 L434.40 136.91 L435.20 138.70 L436.02 140.41 L436.86 142.02 L437.71 143.54 L438.57 144.98 L439.44 146.33 L440.33 147.61 L441.23 148.81 L442.14 149.93 L443.07 150.99 L444.01 151.98 L444.96 152.91 L445.93 153.78 L446.91 154.59 L447.90 155.35 L448.91 156.07 L449.93 156.73 L450.96 157.35 L452.00 157.93 L453.06 158.47 L454.13 158.98 L455.21 159.45 L456.30 159.89 L457.41 160.31 L458.53 160.69 L459.66 161.05 L460.80 161.39 L461.96 161.71 L463.13 162.01 L464.31 162.29 L465.51 162.55 L466.71 162.81 L467.93 163.04 L469.16 163.27 L470.40 163.48 L471.66 163.68 L472.93 163.88 L474.21 164.06 L475.50 164.24 L476.80 164.41 L478.12 164.58 L479.45 164.74 L480.79 164.90 L482.14 165.05 L483.50 165.20 L484.88 165.34 L486.26 165.49 L487.66 165.63 L489.07 165.76 L490.50 165.90 L491.93 166.04 L493.38 166.17 L494.84 166.30 L496.31 166.43 L497.79 166.57 L499.28 166.70 L500.79 166.83 L502.30 166.96 L503.83 167.09 L505.37 167.22 L506.92 167.35 L508.48 167.48 L510.06 167.61 L511.64 167.74 L513.24 167.88 L514.85 168.01 L516.47 168.14 L518.10 168.28 L519.74 168.41 L521.40 168.55 L523.06 168.68 L524.74 168.82 L526.43 168.96 L528.13 169.10 L529.84 169.24 L531.56 169.38 L533.30 169.52 L535.04 169.66 L536.80 169.80 L538.56 169.95 L540.34 170.09 L542.13 170.24 L543.93 170.38 L545.74 170.53 L547.56 170.68 L549.40 170.83 L551.24 170.98 L553.10 171.13 L554.97 171.28 L556.84 171.43 L558.73 171.58 L560.63 171.74 L562.54 171.89 L564.46 172.05 L566.40 172.20 L568.34 172.36 L570.30 172.52 L572.26 172.68 L574.24 172.84 L576.22 173.00 L578.22 173.16 L580.23 173.32 L582.25 173.49 L584.28 173.65 L586.32 173.82 L588.37 173.98 L590.44 174.15 L592.51 174.32 L594.59 174.49 L596.69 174.66 L598.80 174.83 L600.91 175.00 L603.04 175.17 L605.18 175.35 L607.32 175.52 L609.48 175.70 L611.65 175.87 L613.83 176.05 L616.02 176.23 L618.23 176.40 L620.44 176.58 L622.66 176.76 L624.89 176.94 L627.14 177.13 L629.39 177.31 L631.65 177.49 L633.93 177.68 L636.22 177.86 L638.51 178.05 L640.82 178.23 L643.13 178.42 L645.46 178.61 L647.80 178.80" stroke="#ff0000" stroke-width="1.45" stroke-dasharray="4.4 3.8" fill="none" stroke-linejoin="round" clip-path="url(#cb)"/>
<path d="M420.00 161.80L448.39 136.53" stroke="#000000" stroke-width="0.95" fill="none"/>
<path d="M451.80 133.50L448.58 141.32L448.05 136.83L443.66 135.79Z" fill="#000000"/>
<rect x="547.70" y="6.57" width="94.10" height="74.43" fill="#fff" stroke="#262626" stroke-width="0.9"/>
<path d="M549.80 13.20H572.00" stroke="#0000ff" stroke-width="1.4" fill="none"/>
<text x="573.70" y="17.20" font-size="10.2" fill="#111" style="white-space:pre">Rd=0.20 for nf</text>
<path d="M549.80 25.40H572.00" stroke="#0000ff" stroke-width="1.4" fill="none"/>
<text x="573.70" y="29.40" font-size="10.2" fill="#111" style="white-space:pre">Rd=0.25 for nf</text>
<path d="M549.80 37.60H572.00" stroke="#0000ff" stroke-width="1.4" fill="none"/>
<text x="573.70" y="41.60" font-size="10.2" fill="#111" style="white-space:pre">Rd=0.30 for nf</text>
<path d="M549.80 49.80H572.00" stroke="#ff0000" stroke-width="1.4" stroke-dasharray="4.7 3.9" fill="none"/>
<text x="573.70" y="53.80" font-size="10.2" fill="#111" style="white-space:pre">Rd=0.20 for hnf</text>
<path d="M549.80 62.00H572.00" stroke="#ff0000" stroke-width="1.4" stroke-dasharray="4.7 3.9" fill="none"/>
<text x="573.70" y="66.00" font-size="10.2" fill="#111" style="white-space:pre">Rd=0.25 for hnf</text>
<path d="M549.80 74.20H572.00" stroke="#ff0000" stroke-width="1.4" stroke-dasharray="4.7 3.9" fill="none"/>
<text x="573.70" y="78.20" font-size="10.2" fill="#111" style="white-space:pre">Rd=0.30 for hnf</text>
<rect x="50.65" y="272.70" width="234.90" height="178.75" fill="none" stroke="#3a3a3a" stroke-width="0.55"/>
<text transform="translate(50.65 466.45) scale(1 1.14)" text-anchor="middle" font-size="11.7" font-weight="bold" fill="#262626">0</text>
<text transform="translate(109.38 466.45) scale(1 1.14)" text-anchor="middle" font-size="11.7" font-weight="bold" fill="#262626">2</text>
<text transform="translate(168.10 466.45) scale(1 1.14)" text-anchor="middle" font-size="11.7" font-weight="bold" fill="#262626">4</text>
<text transform="translate(226.83 466.45) scale(1 1.14)" text-anchor="middle" font-size="11.7" font-weight="bold" fill="#262626">6</text>
<text transform="translate(285.55 466.45) scale(1 1.14)" text-anchor="middle" font-size="11.7" font-weight="bold" fill="#262626">8</text>
<text transform="translate(46.45 455.65) scale(1 1.14)" text-anchor="end" font-size="11.7" font-weight="bold" fill="#262626">0</text>
<text transform="translate(46.45 423.04) scale(1 1.14)" text-anchor="end" font-size="11.7" font-weight="bold" fill="#262626">0.05</text>
<text transform="translate(46.45 390.44) scale(1 1.14)" text-anchor="end" font-size="11.7" font-weight="bold" fill="#262626">0.1</text>
<text transform="translate(46.45 357.83) scale(1 1.14)" text-anchor="end" font-size="11.7" font-weight="bold" fill="#262626">0.15</text>
<text transform="translate(46.45 325.22) scale(1 1.14)" text-anchor="end" font-size="11.7" font-weight="bold" fill="#262626">0.2</text>
<text transform="translate(46.45 292.62) scale(1 1.14)" text-anchor="end" font-size="11.7" font-weight="bold" fill="#262626">0.25</text>
<path d="M109.38 451.45v-2.6 M109.38 272.70v2.6 M168.10 451.45v-2.6 M168.10 272.70v2.6 M226.83 451.45v-2.6 M226.83 272.70v2.6 M50.65 418.84h2.6 M285.55 418.84h-2.6 M50.65 386.24h2.6 M285.55 386.24h-2.6 M50.65 353.63h2.6 M285.55 353.63h-2.6 M50.65 321.02h2.6 M285.55 321.02h-2.6 M50.65 288.42h2.6 M285.55 288.42h-2.6" stroke="#262626" stroke-width="0.6" fill="none"/>
<text transform="translate(168.10 482.00) scale(1 1)" text-anchor="middle" font-size="12.8" font-style="italic" font-weight="bold" fill="#262626">ζ</text>
<text transform="translate(20.10 362.47) scale(1 1.12) rotate(-90)" text-anchor="middle" font-size="12.4" font-style="italic" font-weight="bold" fill="#262626">θ(ζ)</text>
<text x="161.20" y="512.80" text-anchor="middle" font-size="19" fill="#111">(c)</text>
<path d="M50.65 348.41 L50.67 348.47 L50.72 348.60 L50.80 348.80 L50.90 349.07 L51.02 349.39 L51.17 349.77 L51.33 350.20 L51.51 350.67 L51.72 351.20 L51.94 351.77 L52.18 352.39 L52.44 353.04 L52.72 353.74 L53.02 354.47 L53.33 355.24 L53.66 356.05 L54.01 356.89 L54.37 357.76 L54.75 358.66 L55.15 359.58 L55.56 360.54 L55.99 361.52 L56.44 362.52 L56.90 363.55 L57.37 364.60 L57.87 365.67 L58.37 366.75 L58.90 367.85 L59.43 368.97 L59.99 370.10 L60.55 371.24 L61.14 372.40 L61.73 373.56 L62.35 374.73 L62.97 375.91 L63.61 377.10 L64.27 378.29 L64.94 379.49 L65.62 380.69 L66.32 381.89 L67.03 383.09 L67.76 384.30 L68.50 385.50 L69.25 386.70 L70.02 387.89 L70.80 389.09 L71.60 390.28 L72.41 391.46 L73.23 392.64 L74.07 393.81 L74.92 394.97 L75.78 396.13 L76.66 397.27 L77.55 398.41 L78.45 399.54 L79.37 400.66 L80.30 401.77 L81.24 402.86 L82.19 403.95 L83.16 405.02 L84.15 406.08 L85.14 407.13 L86.15 408.16 L87.17 409.18 L88.20 410.19 L89.25 411.19 L90.31 412.17 L91.38 413.13 L92.46 414.08 L93.56 415.02 L94.67 415.94 L95.79 416.85 L96.93 417.74 L98.08 418.62 L99.24 419.48 L100.41 420.33 L101.59 421.16 L102.79 421.97 L104.00 422.77 L105.22 423.56 L106.45 424.33 L107.70 425.09 L108.96 425.83 L110.23 426.56 L111.51 427.27 L112.81 427.96 L114.11 428.65 L115.43 429.31 L116.76 429.97 L118.11 430.61 L119.46 431.23 L120.83 431.84 L122.21 432.44 L123.60 433.02 L125.00 433.59 L126.42 434.15 L127.84 434.69 L129.28 435.22 L130.73 435.74 L132.19 436.24 L133.67 436.73 L135.15 437.21 L136.65 437.68 L138.16 438.14 L139.68 438.58 L141.21 439.01 L142.76 439.43 L144.31 439.84 L145.88 440.24 L147.46 440.63 L149.05 441.01 L150.65 441.37 L152.26 441.73 L153.88 442.08 L155.52 442.42 L157.17 442.74 L158.83 443.06 L160.49 443.37 L162.18 443.67 L163.87 443.96 L165.57 444.25 L167.29 444.52 L169.01 444.79 L170.75 445.04 L172.50 445.29 L174.26 445.54 L176.03 445.77 L177.82 446.00 L179.61 446.22 L181.41 446.44 L183.23 446.64 L185.06 446.84 L186.90 447.04 L188.75 447.23 L190.61 447.41 L192.48 447.58 L194.36 447.75 L196.25 447.92 L198.16 448.08 L200.07 448.23 L202.00 448.38 L203.94 448.52 L205.89 448.66 L207.85 448.80 L209.82 448.93 L211.80 449.05 L213.79 449.17 L215.79 449.29 L217.81 449.40 L219.83 449.51 L221.87 449.61 L223.92 449.72 L225.97 449.81 L228.04 449.91 L230.12 450.00 L232.21 450.09 L234.31 450.17 L236.42 450.25 L238.54 450.33 L240.67 450.40 L242.82 450.48 L244.97 450.55 L247.14 450.62 L249.31 450.68 L251.50 450.74 L253.69 450.80 L255.90 450.86 L258.12 450.92 L260.35 450.97 L262.58 451.02 L264.83 451.07 L267.09 451.12 L269.36 451.17 L271.64 451.21 L273.94 451.26 L276.24 451.30 L278.55 451.34 L280.87 451.38 L283.21 451.41 L285.55 451.45" stroke="#ff0000" stroke-width="1.45" fill="none" stroke-linejoin="round" clip-path="url(#cc)"/>
<path d="M50.65 312.55 L50.67 312.62 L50.72 312.81 L50.80 313.09 L50.90 313.46 L51.02 313.91 L51.17 314.43 L51.33 315.03 L51.51 315.70 L51.72 316.43 L51.94 317.22 L52.18 318.08 L52.44 318.99 L52.72 319.96 L53.02 320.98 L53.33 322.06 L53.66 323.18 L54.01 324.34 L54.37 325.55 L54.75 326.81 L55.15 328.10 L55.56 329.43 L55.99 330.79 L56.44 332.18 L56.90 333.61 L57.37 335.07 L57.87 336.55 L58.37 338.05 L58.90 339.58 L59.43 341.13 L59.99 342.70 L60.55 344.28 L61.14 345.88 L61.73 347.50 L62.35 349.12 L62.97 350.76 L63.61 352.40 L64.27 354.05 L64.94 355.70 L65.62 357.36 L66.32 359.02 L67.03 360.68 L67.76 362.34 L68.50 364.00 L69.25 365.65 L70.02 367.30 L70.80 368.94 L71.60 370.58 L72.41 372.21 L73.23 373.83 L74.07 375.44 L74.92 377.03 L75.78 378.62 L76.66 380.19 L77.55 381.75 L78.45 383.30 L79.37 384.83 L80.30 386.34 L81.24 387.84 L82.19 389.32 L83.16 390.79 L84.15 392.23 L85.14 393.66 L86.15 395.07 L87.17 396.46 L88.20 397.83 L89.25 399.17 L90.31 400.50 L91.38 401.81 L92.46 403.10 L93.56 404.37 L94.67 405.61 L95.79 406.83 L96.93 408.04 L98.08 409.22 L99.24 410.38 L100.41 411.51 L101.59 412.63 L102.79 413.72 L104.00 414.80 L105.22 415.85 L106.45 416.88 L107.70 417.89 L108.96 418.88 L110.23 419.84 L111.51 420.79 L112.81 421.71 L114.11 422.62 L115.43 423.50 L116.76 424.36 L118.11 425.21 L119.46 426.03 L120.83 426.83 L122.21 427.62 L123.60 428.38 L125.00 429.13 L126.42 429.86 L127.84 430.57 L129.28 431.26 L130.73 431.93 L132.19 432.59 L133.67 433.23 L135.15 433.85 L136.65 434.45 L138.16 435.04 L139.68 435.61 L141.21 436.17 L142.76 436.71 L144.31 437.24 L145.88 437.75 L147.46 438.24 L149.05 438.73 L150.65 439.19 L152.26 439.65 L153.88 440.09 L155.52 440.52 L157.17 440.93 L158.83 441.33 L160.49 441.72 L162.18 442.10 L163.87 442.46 L165.57 442.82 L167.29 443.16 L169.01 443.49 L170.75 443.82 L172.50 444.13 L174.26 444.43 L176.03 444.72 L177.82 445.00 L179.61 445.27 L181.41 445.54 L183.23 445.79 L185.06 446.04 L186.90 446.27 L188.75 446.50 L190.61 446.72 L192.48 446.94 L194.36 447.14 L196.25 447.34 L198.16 447.53 L200.07 447.72 L202.00 447.90 L203.94 448.07 L205.89 448.24 L207.85 448.40 L209.82 448.55 L211.80 448.70 L213.79 448.84 L215.79 448.98 L217.81 449.11 L219.83 449.24 L221.87 449.36 L223.92 449.48 L225.97 449.59 L228.04 449.70 L230.12 449.81 L232.21 449.91 L234.31 450.01 L236.42 450.10 L238.54 450.19 L240.67 450.28 L242.82 450.36 L244.97 450.44 L247.14 450.52 L249.31 450.59 L251.50 450.66 L253.69 450.73 L255.90 450.80 L258.12 450.86 L260.35 450.92 L262.58 450.98 L264.83 451.04 L267.09 451.09 L269.36 451.14 L271.64 451.19 L273.94 451.24 L276.24 451.28 L278.55 451.33 L280.87 451.37 L283.21 451.41 L285.55 451.45" stroke="#ff0000" stroke-width="1.45" fill="none" stroke-linejoin="round" clip-path="url(#cc)"/>
<path d="M50.65 272.70 L50.67 272.80 L50.72 273.05 L50.80 273.42 L50.90 273.90 L51.02 274.49 L51.17 275.18 L51.33 275.96 L51.51 276.84 L51.72 277.80 L51.94 278.85 L52.18 279.97 L52.44 281.17 L52.72 282.45 L53.02 283.79 L53.33 285.20 L53.66 286.67 L54.01 288.20 L54.37 289.79 L54.75 291.43 L55.15 293.13 L55.56 294.87 L55.99 296.66 L56.44 298.49 L56.90 300.36 L57.37 302.27 L57.87 304.21 L58.37 306.18 L58.90 308.19 L59.43 310.22 L59.99 312.27 L60.55 314.35 L61.14 316.44 L61.73 318.55 L62.35 320.68 L62.97 322.82 L63.61 324.97 L64.27 327.13 L64.94 329.29 L65.62 331.45 L66.32 333.62 L67.03 335.79 L67.76 337.96 L68.50 340.12 L69.25 342.28 L70.02 344.43 L70.80 346.58 L71.60 348.71 L72.41 350.83 L73.23 352.94 L74.07 355.03 L74.92 357.11 L75.78 359.18 L76.66 361.22 L77.55 363.25 L78.45 365.26 L79.37 367.25 L80.30 369.21 L81.24 371.15 L82.19 373.07 L83.16 374.97 L84.15 376.84 L85.14 378.69 L86.15 380.51 L87.17 382.31 L88.20 384.08 L89.25 385.82 L90.31 387.53 L91.38 389.22 L92.46 390.88 L93.56 392.51 L94.67 394.11 L95.79 395.69 L96.93 397.23 L98.08 398.75 L99.24 400.24 L100.41 401.70 L101.59 403.13 L102.79 404.53 L104.00 405.90 L105.22 407.25 L106.45 408.56 L107.70 409.85 L108.96 411.11 L110.23 412.34 L111.51 413.55 L112.81 414.72 L114.11 415.87 L115.43 417.00 L116.76 418.09 L118.11 419.16 L119.46 420.20 L120.83 421.22 L122.21 422.21 L123.60 423.18 L125.00 424.12 L126.42 425.04 L127.84 425.93 L129.28 426.80 L130.73 427.65 L132.19 428.47 L133.67 429.27 L135.15 430.05 L136.65 430.81 L138.16 431.54 L139.68 432.26 L141.21 432.95 L142.76 433.63 L144.31 434.28 L145.88 434.92 L147.46 435.53 L149.05 436.13 L150.65 436.71 L152.26 437.27 L153.88 437.81 L155.52 438.34 L157.17 438.85 L158.83 439.35 L160.49 439.83 L162.18 440.29 L163.87 440.74 L165.57 441.17 L167.29 441.59 L169.01 442.00 L170.75 442.39 L172.50 442.77 L174.26 443.14 L176.03 443.49 L177.82 443.83 L179.61 444.16 L181.41 444.48 L183.23 444.79 L185.06 445.08 L186.90 445.37 L188.75 445.65 L190.61 445.91 L192.48 446.17 L194.36 446.42 L196.25 446.65 L198.16 446.88 L200.07 447.10 L202.00 447.32 L203.94 447.52 L205.89 447.72 L207.85 447.91 L209.82 448.09 L211.80 448.27 L213.79 448.44 L215.79 448.60 L217.81 448.75 L219.83 448.90 L221.87 449.05 L223.92 449.19 L225.97 449.32 L228.04 449.45 L230.12 449.57 L232.21 449.69 L234.31 449.80 L236.42 449.91 L238.54 450.01 L240.67 450.12 L242.82 450.21 L244.97 450.30 L247.14 450.39 L249.31 450.48 L251.50 450.56 L253.69 450.64 L255.90 450.71 L258.12 450.78 L260.35 450.85 L262.58 450.92 L264.83 450.98 L267.09 451.04 L269.36 451.10 L271.64 451.16 L273.94 451.21 L276.24 451.26 L278.55 451.31 L280.87 451.36 L283.21 451.41 L285.55 451.45" stroke="#ff0000" stroke-width="1.45" fill="none" stroke-linejoin="round" clip-path="url(#cc)"/>
<path d="M50.65 376.45 L50.67 376.51 L50.72 376.63 L50.80 376.83 L50.90 377.08 L51.02 377.39 L51.17 377.75 L51.33 378.15 L51.51 378.61 L51.72 379.11 L51.94 379.65 L52.18 380.23 L52.44 380.85 L52.72 381.50 L53.02 382.19 L53.33 382.91 L53.66 383.67 L54.01 384.45 L54.37 385.25 L54.75 386.09 L55.15 386.94 L55.56 387.82 L55.99 388.72 L56.44 389.64 L56.90 390.57 L57.37 391.52 L57.87 392.49 L58.37 393.46 L58.90 394.45 L59.43 395.44 L59.99 396.45 L60.55 397.46 L61.14 398.47 L61.73 399.49 L62.35 400.51 L62.97 401.53 L63.61 402.55 L64.27 403.57 L64.94 404.59 L65.62 405.61 L66.32 406.62 L67.03 407.62 L67.76 408.62 L68.50 409.61 L69.25 410.60 L70.02 411.57 L70.80 412.54 L71.60 413.49 L72.41 414.44 L73.23 415.37 L74.07 416.30 L74.92 417.21 L75.78 418.10 L76.66 418.99 L77.55 419.86 L78.45 420.71 L79.37 421.55 L80.30 422.38 L81.24 423.19 L82.19 423.99 L83.16 424.77 L84.15 425.53 L85.14 426.28 L86.15 427.02 L87.17 427.74 L88.20 428.44 L89.25 429.13 L90.31 429.80 L91.38 430.46 L92.46 431.10 L93.56 431.72 L94.67 432.33 L95.79 432.93 L96.93 433.51 L98.08 434.07 L99.24 434.62 L100.41 435.16 L101.59 435.68 L102.79 436.18 L104.00 436.68 L105.22 437.16 L106.45 437.62 L107.70 438.07 L108.96 438.51 L110.23 438.94 L111.51 439.35 L112.81 439.75 L114.11 440.14 L115.43 440.52 L116.76 440.89 L118.11 441.24 L119.46 441.59 L120.83 441.92 L122.21 442.24 L123.60 442.56 L125.00 442.86 L126.42 443.16 L127.84 443.44 L129.28 443.72 L130.73 443.98 L132.19 444.24 L133.67 444.49 L135.15 444.73 L136.65 444.97 L138.16 445.19 L139.68 445.41 L141.21 445.63 L142.76 445.83 L144.31 446.03 L145.88 446.22 L147.46 446.41 L149.05 446.59 L150.65 446.76 L152.26 446.93 L153.88 447.09 L155.52 447.25 L157.17 447.40 L158.83 447.55 L160.49 447.69 L162.18 447.83 L163.87 447.96 L165.57 448.09 L167.29 448.22 L169.01 448.34 L170.75 448.45 L172.50 448.57 L174.26 448.68 L176.03 448.78 L177.82 448.88 L179.61 448.98 L181.41 449.08 L183.23 449.17 L185.06 449.26 L186.90 449.35 L188.75 449.43 L190.61 449.52 L192.48 449.59 L194.36 449.67 L196.25 449.75 L198.16 449.82 L200.07 449.89 L202.00 449.95 L203.94 450.02 L205.89 450.08 L207.85 450.14 L209.82 450.20 L211.80 450.26 L213.79 450.32 L215.79 450.37 L217.81 450.42 L219.83 450.47 L221.87 450.52 L223.92 450.57 L225.97 450.62 L228.04 450.66 L230.12 450.70 L232.21 450.75 L234.31 450.79 L236.42 450.83 L238.54 450.86 L240.67 450.90 L242.82 450.94 L244.97 450.97 L247.14 451.01 L249.31 451.04 L251.50 451.07 L253.69 451.10 L255.90 451.13 L258.12 451.16 L260.35 451.19 L262.58 451.22 L264.83 451.24 L267.09 451.27 L269.36 451.29 L271.64 451.32 L273.94 451.34 L276.24 451.36 L278.55 451.39 L280.87 451.41 L283.21 451.43 L285.55 451.45" stroke="#0000ff" stroke-width="1.45" stroke-dasharray="4.4 3.8" fill="none" stroke-linejoin="round" clip-path="url(#cc)"/>
<path d="M50.65 352.33 L50.67 352.39 L50.72 352.57 L50.80 352.82 L50.90 353.16 L51.02 353.57 L51.17 354.04 L51.33 354.59 L51.51 355.19 L51.72 355.86 L51.94 356.58 L52.18 357.35 L52.44 358.18 L52.72 359.05 L53.02 359.97 L53.33 360.93 L53.66 361.93 L54.01 362.98 L54.37 364.06 L54.75 365.17 L55.15 366.31 L55.56 367.49 L55.99 368.69 L56.44 369.91 L56.90 371.16 L57.37 372.43 L57.87 373.72 L58.37 375.02 L58.90 376.34 L59.43 377.67 L59.99 379.02 L60.55 380.37 L61.14 381.73 L61.73 383.09 L62.35 384.46 L62.97 385.83 L63.61 387.20 L64.27 388.57 L64.94 389.93 L65.62 391.30 L66.32 392.65 L67.03 394.00 L67.76 395.34 L68.50 396.68 L69.25 398.00 L70.02 399.31 L70.80 400.61 L71.60 401.89 L72.41 403.16 L73.23 404.42 L74.07 405.66 L74.92 406.88 L75.78 408.09 L76.66 409.28 L77.55 410.45 L78.45 411.60 L79.37 412.73 L80.30 413.84 L81.24 414.93 L82.19 416.00 L83.16 417.05 L84.15 418.08 L85.14 419.09 L86.15 420.08 L87.17 421.04 L88.20 421.99 L89.25 422.91 L90.31 423.81 L91.38 424.69 L92.46 425.55 L93.56 426.39 L94.67 427.20 L95.79 428.00 L96.93 428.77 L98.08 429.53 L99.24 430.26 L100.41 430.97 L101.59 431.67 L102.79 432.34 L104.00 433.00 L105.22 433.63 L106.45 434.25 L107.70 434.85 L108.96 435.43 L110.23 435.99 L111.51 436.54 L112.81 437.07 L114.11 437.58 L115.43 438.08 L116.76 438.56 L118.11 439.02 L119.46 439.47 L120.83 439.91 L122.21 440.33 L123.60 440.73 L125.00 441.13 L126.42 441.51 L127.84 441.88 L129.28 442.23 L130.73 442.57 L132.19 442.90 L133.67 443.22 L135.15 443.53 L136.65 443.83 L138.16 444.12 L139.68 444.39 L141.21 444.66 L142.76 444.92 L144.31 445.17 L145.88 445.41 L147.46 445.64 L149.05 445.86 L150.65 446.07 L152.26 446.28 L153.88 446.48 L155.52 446.67 L157.17 446.86 L158.83 447.04 L160.49 447.21 L162.18 447.38 L163.87 447.54 L165.57 447.69 L167.29 447.84 L169.01 447.99 L170.75 448.12 L172.50 448.26 L174.26 448.39 L176.03 448.51 L177.82 448.63 L179.61 448.75 L181.41 448.86 L183.23 448.97 L185.06 449.07 L186.90 449.17 L188.75 449.26 L190.61 449.36 L192.48 449.45 L194.36 449.53 L196.25 449.62 L198.16 449.70 L200.07 449.78 L202.00 449.85 L203.94 449.92 L205.89 449.99 L207.85 450.06 L209.82 450.13 L211.80 450.19 L213.79 450.25 L215.79 450.31 L217.81 450.37 L219.83 450.42 L221.87 450.47 L223.92 450.53 L225.97 450.58 L228.04 450.62 L230.12 450.67 L232.21 450.71 L234.31 450.76 L236.42 450.80 L238.54 450.84 L240.67 450.88 L242.82 450.92 L244.97 450.95 L247.14 450.99 L249.31 451.02 L251.50 451.06 L253.69 451.09 L255.90 451.12 L258.12 451.15 L260.35 451.18 L262.58 451.21 L264.83 451.24 L267.09 451.26 L269.36 451.29 L271.64 451.31 L273.94 451.34 L276.24 451.36 L278.55 451.39 L280.87 451.41 L283.21 451.43 L285.55 451.45" stroke="#0000ff" stroke-width="1.45" stroke-dasharray="4.4 3.8" fill="none" stroke-linejoin="round" clip-path="url(#cc)"/>
<path d="M50.65 325.59 L50.67 325.67 L50.72 325.88 L50.80 326.20 L50.90 326.61 L51.02 327.11 L51.17 327.70 L51.33 328.37 L51.51 329.11 L51.72 329.93 L51.94 330.82 L52.18 331.77 L52.44 332.78 L52.72 333.86 L53.02 334.99 L53.33 336.18 L53.66 337.42 L54.01 338.71 L54.37 340.04 L54.75 341.41 L55.15 342.83 L55.56 344.28 L55.99 345.77 L56.44 347.29 L56.90 348.84 L57.37 350.42 L57.87 352.02 L58.37 353.64 L58.90 355.29 L59.43 356.95 L59.99 358.62 L60.55 360.31 L61.14 362.01 L61.73 363.72 L62.35 365.43 L62.97 367.15 L63.61 368.87 L64.27 370.59 L64.94 372.31 L65.62 374.03 L66.32 375.74 L67.03 377.44 L67.76 379.14 L68.50 380.82 L69.25 382.50 L70.02 384.16 L70.80 385.81 L71.60 387.44 L72.41 389.06 L73.23 390.66 L74.07 392.24 L74.92 393.81 L75.78 395.35 L76.66 396.87 L77.55 398.37 L78.45 399.85 L79.37 401.30 L80.30 402.73 L81.24 404.14 L82.19 405.52 L83.16 406.87 L84.15 408.20 L85.14 409.51 L86.15 410.79 L87.17 412.04 L88.20 413.27 L89.25 414.47 L90.31 415.64 L91.38 416.78 L92.46 417.90 L93.56 419.00 L94.67 420.06 L95.79 421.10 L96.93 422.12 L98.08 423.10 L99.24 424.07 L100.41 425.00 L101.59 425.91 L102.79 426.80 L104.00 427.66 L105.22 428.50 L106.45 429.31 L107.70 430.10 L108.96 430.87 L110.23 431.61 L111.51 432.33 L112.81 433.03 L114.11 433.70 L115.43 434.36 L116.76 434.99 L118.11 435.61 L119.46 436.20 L120.83 436.78 L122.21 437.33 L123.60 437.87 L125.00 438.39 L126.42 438.89 L127.84 439.38 L129.28 439.84 L130.73 440.30 L132.19 440.73 L133.67 441.15 L135.15 441.56 L136.65 441.95 L138.16 442.32 L139.68 442.69 L141.21 443.04 L142.76 443.38 L144.31 443.70 L145.88 444.01 L147.46 444.31 L149.05 444.60 L150.65 444.88 L152.26 445.15 L153.88 445.41 L155.52 445.66 L157.17 445.90 L158.83 446.13 L160.49 446.35 L162.18 446.56 L163.87 446.77 L165.57 446.97 L167.29 447.16 L169.01 447.34 L170.75 447.51 L172.50 447.68 L174.26 447.84 L176.03 448.00 L177.82 448.15 L179.61 448.29 L181.41 448.43 L183.23 448.56 L185.06 448.69 L186.90 448.81 L188.75 448.93 L190.61 449.05 L192.48 449.15 L194.36 449.26 L196.25 449.36 L198.16 449.46 L200.07 449.55 L202.00 449.64 L203.94 449.73 L205.89 449.81 L207.85 449.89 L209.82 449.97 L211.80 450.04 L213.79 450.11 L215.79 450.18 L217.81 450.25 L219.83 450.31 L221.87 450.37 L223.92 450.43 L225.97 450.49 L228.04 450.54 L230.12 450.59 L232.21 450.65 L234.31 450.69 L236.42 450.74 L238.54 450.79 L240.67 450.83 L242.82 450.87 L244.97 450.91 L247.14 450.95 L249.31 450.99 L251.50 451.03 L253.69 451.06 L255.90 451.10 L258.12 451.13 L260.35 451.16 L262.58 451.19 L264.83 451.22 L267.09 451.25 L269.36 451.28 L271.64 451.31 L273.94 451.33 L276.24 451.36 L278.55 451.38 L280.87 451.41 L283.21 451.43 L285.55 451.45" stroke="#0000ff" stroke-width="1.45" stroke-dasharray="4.4 3.8" fill="none" stroke-linejoin="round" clip-path="url(#cc)"/>
<path d="M67.00 429.00L104.87 388.82" stroke="#000000" stroke-width="0.95" fill="none"/>
<path d="M108.00 385.50L105.48 393.57L104.56 389.15L100.09 388.49Z" fill="#000000"/>
<rect x="186.40" y="278.90" width="93.00" height="78.40" fill="#fff" stroke="#262626" stroke-width="0.9"/>
<path d="M188.05 286.10H210.25" stroke="#ff0000" stroke-width="1.4" fill="none"/>
<text x="211.90" y="290.10" font-size="10.2" fill="#111" style="white-space:pre"><tspan font-weight="bold">λ</tspan> = 0.10 for nf</text>
<path d="M188.05 298.90H210.25" stroke="#ff0000" stroke-width="1.4" fill="none"/>
<text x="211.90" y="302.90" font-size="10.2" fill="#111" style="white-space:pre"><tspan font-weight="bold">λ</tspan> = 0.13 for nf</text>
<path d="M188.05 311.70H210.25" stroke="#ff0000" stroke-width="1.4" fill="none"/>
<text x="211.90" y="315.70" font-size="10.2" fill="#111" style="white-space:pre"><tspan font-weight="bold">λ</tspan> = 0.16 for nf</text>
<path d="M188.05 324.50H210.25" stroke="#0000ff" stroke-width="1.4" stroke-dasharray="4.7 3.9" fill="none"/>
<text x="211.90" y="328.50" font-size="10.2" fill="#111" style="white-space:pre"><tspan font-weight="bold">λ</tspan> = 0.10 for hnf</text>
<path d="M188.05 337.30H210.25" stroke="#0000ff" stroke-width="1.4" stroke-dasharray="4.7 3.9" fill="none"/>
<text x="211.90" y="341.30" font-size="10.2" fill="#111" style="white-space:pre"><tspan font-weight="bold">λ</tspan> = 0.13 for hnf</text>
<path d="M188.05 350.10H210.25" stroke="#0000ff" stroke-width="1.4" stroke-dasharray="4.7 3.9" fill="none"/>
<text x="211.90" y="354.10" font-size="10.2" fill="#111" style="white-space:pre"><tspan font-weight="bold">λ</tspan> = 0.16 for hnf</text>
<rect x="413.50" y="272.70" width="234.30" height="178.75" fill="none" stroke="#3a3a3a" stroke-width="0.55"/>
<text transform="translate(413.50 466.45) scale(1 1.14)" text-anchor="middle" font-size="11.7" font-weight="bold" fill="#262626">0</text>
<text transform="translate(472.07 466.45) scale(1 1.14)" text-anchor="middle" font-size="11.7" font-weight="bold" fill="#262626">2</text>
<text transform="translate(530.65 466.45) scale(1 1.14)" text-anchor="middle" font-size="11.7" font-weight="bold" fill="#262626">4</text>
<text transform="translate(589.22 466.45) scale(1 1.14)" text-anchor="middle" font-size="11.7" font-weight="bold" fill="#262626">6</text>
<text transform="translate(647.80 466.45) scale(1 1.14)" text-anchor="middle" font-size="11.7" font-weight="bold" fill="#262626">8</text>
<text transform="translate(409.30 455.65) scale(1 1.14)" text-anchor="end" font-size="11.7" font-weight="bold" fill="#262626">0</text>
<text transform="translate(409.30 416.02) scale(1 1.14)" text-anchor="end" font-size="11.7" font-weight="bold" fill="#262626">0.01</text>
<text transform="translate(409.30 376.38) scale(1 1.14)" text-anchor="end" font-size="11.7" font-weight="bold" fill="#262626">0.02</text>
<text transform="translate(409.30 336.75) scale(1 1.14)" text-anchor="end" font-size="11.7" font-weight="bold" fill="#262626">0.03</text>
<text transform="translate(409.30 297.11) scale(1 1.14)" text-anchor="end" font-size="11.7" font-weight="bold" fill="#262626">0.04</text>
<path d="M472.07 451.45v-2.6 M472.07 272.70v2.6 M530.65 451.45v-2.6 M530.65 272.70v2.6 M589.22 451.45v-2.6 M589.22 272.70v2.6 M413.50 411.82h2.6 M647.80 411.82h-2.6 M413.50 372.18h2.6 M647.80 372.18h-2.6 M413.50 332.55h2.6 M647.80 332.55h-2.6 M413.50 292.91h2.6 M647.80 292.91h-2.6" stroke="#262626" stroke-width="0.6" fill="none"/>
<text transform="translate(530.65 482.00) scale(1 1)" text-anchor="middle" font-size="12.8" font-style="italic" font-weight="bold" fill="#262626">ζ</text>
<text transform="translate(383.00 362.47) scale(1 1.12) rotate(-90)" text-anchor="middle" font-size="12.4" font-style="italic" font-weight="bold" fill="#262626">θ(ζ)</text>
<text x="523.70" y="512.80" text-anchor="middle" font-size="19" fill="#111">(d)</text>
<path d="M413.50 272.70 L413.52 273.00 L413.57 273.73 L413.65 274.83 L413.75 276.25 L413.87 277.98 L414.01 279.98 L414.18 282.24 L414.36 284.74 L414.57 287.44 L414.79 290.35 L415.03 293.43 L415.29 296.67 L415.57 300.05 L415.86 303.56 L416.17 307.17 L416.50 310.87 L416.85 314.64 L417.21 318.48 L417.59 322.35 L417.99 326.26 L418.40 330.17 L418.83 334.10 L419.27 338.00 L419.73 341.89 L420.21 345.75 L420.70 349.56 L421.20 353.32 L421.73 357.02 L422.26 360.65 L422.81 364.20 L423.38 367.67 L423.96 371.06 L424.56 374.35 L425.17 377.55 L425.79 380.65 L426.43 383.65 L427.08 386.55 L427.75 389.33 L428.43 392.02 L429.13 394.59 L429.84 397.06 L430.57 399.43 L431.30 401.69 L432.06 403.84 L432.82 405.90 L433.60 407.85 L434.40 409.71 L435.20 411.47 L436.02 413.14 L436.86 414.72 L437.71 416.21 L438.57 417.61 L439.44 418.94 L440.33 420.19 L441.23 421.37 L442.14 422.47 L443.07 423.51 L444.01 424.48 L444.96 425.39 L445.93 426.25 L446.91 427.05 L447.90 427.79 L448.91 428.49 L449.93 429.15 L450.96 429.76 L452.00 430.33 L453.06 430.86 L454.13 431.36 L455.21 431.83 L456.30 432.26 L457.41 432.67 L458.53 433.05 L459.66 433.41 L460.80 433.75 L461.96 434.06 L463.13 434.36 L464.31 434.64 L465.51 434.90 L466.71 435.15 L467.93 435.38 L469.16 435.61 L470.40 435.82 L471.66 436.02 L472.93 436.22 L474.21 436.41 L475.50 436.58 L476.80 436.76 L478.12 436.92 L479.45 437.09 L480.79 437.24 L482.14 437.40 L483.50 437.55 L484.88 437.70 L486.26 437.84 L487.66 437.98 L489.07 438.12 L490.50 438.26 L491.93 438.40 L493.38 438.53 L494.84 438.67 L496.31 438.80 L497.79 438.94 L499.28 439.07 L500.79 439.21 L502.30 439.34 L503.83 439.47 L505.37 439.61 L506.92 439.74 L508.48 439.87 L510.06 440.01 L511.64 440.14 L513.24 440.28 L514.85 440.41 L516.47 440.55 L518.10 440.69 L519.74 440.83 L521.40 440.96 L523.06 441.10 L524.74 441.24 L526.43 441.38 L528.13 441.53 L529.84 441.67 L531.56 441.81 L533.30 441.96 L535.04 442.10 L536.80 442.25 L538.56 442.39 L540.34 442.54 L542.13 442.69 L543.93 442.84 L545.74 442.99 L547.56 443.14 L549.40 443.29 L551.24 443.45 L553.10 443.60 L554.97 443.75 L556.84 443.91 L558.73 444.07 L560.63 444.22 L562.54 444.38 L564.46 444.54 L566.40 444.70 L568.34 444.86 L570.30 445.03 L572.26 445.19 L574.24 445.35 L576.22 445.52 L578.22 445.68 L580.23 445.85 L582.25 446.02 L584.28 446.19 L586.32 446.35 L588.37 446.52 L590.44 446.70 L592.51 446.87 L594.59 447.04 L596.69 447.21 L598.80 447.39 L600.91 447.56 L603.04 447.74 L605.18 447.92 L607.32 448.10 L609.48 448.27 L611.65 448.45 L613.83 448.63 L616.02 448.82 L618.23 449.00 L620.44 449.18 L622.66 449.37 L624.89 449.55 L627.14 449.74 L629.39 449.92 L631.65 450.11 L633.93 450.30 L636.22 450.49 L638.51 450.68 L640.82 450.87 L643.13 451.06 L645.46 451.26 L647.80 451.45" stroke="#ffff00" stroke-width="1.5" fill="none" stroke-linejoin="round" clip-path="url(#cd)"/>
<path d="M413.50 314.71 L413.52 314.99 L413.57 315.68 L413.65 316.71 L413.75 318.05 L413.87 319.66 L414.01 321.53 L414.18 323.63 L414.36 325.93 L414.57 328.43 L414.79 331.09 L415.03 333.90 L415.29 336.84 L415.57 339.89 L415.86 343.03 L416.17 346.25 L416.50 349.52 L416.85 352.83 L417.21 356.17 L417.59 359.51 L417.99 362.85 L418.40 366.18 L418.83 369.47 L419.27 372.73 L419.73 375.93 L420.21 379.08 L420.70 382.16 L421.20 385.16 L421.73 388.08 L422.26 390.91 L422.81 393.66 L423.38 396.30 L423.96 398.85 L424.56 401.30 L425.17 403.65 L425.79 405.89 L426.43 408.03 L427.08 410.07 L427.75 412.01 L428.43 413.84 L429.13 415.58 L429.84 417.22 L430.57 418.77 L431.30 420.23 L432.06 421.60 L432.82 422.88 L433.60 424.08 L434.40 425.21 L435.20 426.26 L436.02 427.24 L436.86 428.15 L437.71 429.00 L438.57 429.79 L439.44 430.52 L440.33 431.20 L441.23 431.83 L442.14 432.41 L443.07 432.95 L444.01 433.44 L444.96 433.90 L445.93 434.33 L446.91 434.72 L447.90 435.09 L448.91 435.43 L449.93 435.74 L450.96 436.03 L452.00 436.30 L453.06 436.55 L454.13 436.78 L455.21 437.00 L456.30 437.20 L457.41 437.39 L458.53 437.57 L459.66 437.74 L460.80 437.90 L461.96 438.05 L463.13 438.19 L464.31 438.33 L465.51 438.46 L466.71 438.59 L467.93 438.71 L469.16 438.83 L470.40 438.95 L471.66 439.06 L472.93 439.17 L474.21 439.28 L475.50 439.39 L476.80 439.49 L478.12 439.60 L479.45 439.70 L480.79 439.81 L482.14 439.91 L483.50 440.01 L484.88 440.11 L486.26 440.21 L487.66 440.32 L489.07 440.42 L490.50 440.52 L491.93 440.62 L493.38 440.73 L494.84 440.83 L496.31 440.93 L497.79 441.04 L499.28 441.14 L500.79 441.25 L502.30 441.35 L503.83 441.46 L505.37 441.57 L506.92 441.68 L508.48 441.78 L510.06 441.89 L511.64 442.00 L513.24 442.12 L514.85 442.23 L516.47 442.34 L518.10 442.45 L519.74 442.57 L521.40 442.68 L523.06 442.80 L524.74 442.91 L526.43 443.03 L528.13 443.15 L529.84 443.27 L531.56 443.39 L533.30 443.51 L535.04 443.63 L536.80 443.75 L538.56 443.87 L540.34 444.00 L542.13 444.12 L543.93 444.25 L545.74 444.37 L547.56 444.50 L549.40 444.63 L551.24 444.75 L553.10 444.88 L554.97 445.01 L556.84 445.14 L558.73 445.27 L560.63 445.40 L562.54 445.54 L564.46 445.67 L566.40 445.80 L568.34 445.94 L570.30 446.07 L572.26 446.21 L574.24 446.35 L576.22 446.49 L578.22 446.62 L580.23 446.76 L582.25 446.90 L584.28 447.04 L586.32 447.19 L588.37 447.33 L590.44 447.47 L592.51 447.62 L594.59 447.76 L596.69 447.91 L598.80 448.05 L600.91 448.20 L603.04 448.35 L605.18 448.49 L607.32 448.64 L609.48 448.79 L611.65 448.94 L613.83 449.09 L616.02 449.25 L618.23 449.40 L620.44 449.55 L622.66 449.71 L624.89 449.86 L627.14 450.02 L629.39 450.17 L631.65 450.33 L633.93 450.49 L636.22 450.65 L638.51 450.81 L640.82 450.97 L643.13 451.13 L645.46 451.29 L647.80 451.45" stroke="#ff0000" stroke-width="1.45" stroke-dasharray="4.4 3.8" fill="none" stroke-linejoin="round" clip-path="url(#cd)"/>
<path d="M459.30 410.20L424.32 432.92" stroke="#0000ff" stroke-width="1.2" fill="none"/>
<path d="M420.50 435.40L424.86 428.16L424.71 432.67L428.89 434.36Z" fill="#0000ff"/>
<clipPath id="cid"><rect x="489.7" y="340.5" width="55.40" height="44.60"/></clipPath>
<rect x="489.7" y="340.5" width="55.40" height="44.60" fill="#fff"/>
<path d="M489.74 351.42L521.51 385.07" stroke="#ff0000" stroke-width="1.35" clip-path="url(#cid)"/>
<path d="M489.74 341.61L530.67 385.07" stroke="#ff0000" stroke-width="1.35" clip-path="url(#cid)"/>
<path d="M497.03 339.27L541.14 386.28" stroke="#ff0000" stroke-width="1.35" clip-path="url(#cid)"/>
<path d="M494.22 340.95L533.20 382.26" stroke="#ffff00" stroke-width="1.6" stroke-dasharray="4.4 3.6" fill="none" clip-path="url(#cid)"/>
<path d="M501.70 340.95L540.95 382.26" stroke="#ffff00" stroke-width="1.6" stroke-dasharray="4.4 3.6" fill="none" clip-path="url(#cid)"/>
<path d="M508.71 340.95L542.45 375.63" stroke="#ffff00" stroke-width="1.6" stroke-dasharray="4.4 3.6" fill="none" clip-path="url(#cid)"/>
<rect x="489.7" y="340.5" width="55.40" height="44.60" fill="none" stroke="#0000ff" stroke-width="1"/>
<ellipse cx="514.3" cy="441.6" rx="7.0" ry="5.7" fill="none" stroke="#0000ff" stroke-width="0.9"/>
<path d="M514.90 435.80L518.34 390.67" stroke="#0000ff" stroke-width="1.5" stroke-dasharray="4.4 3.4" fill="none"/>
<path d="M518.70 386.00L521.40 394.03L518.31 391.13L514.82 393.53Z" fill="#0000ff"/>
<rect x="556.70" y="278.90" width="85.10" height="78.20" fill="#fff" stroke="#0000ff" stroke-width="0.9"/>
<path d="M558.70 286.10H580.90" stroke="#ffff00" stroke-width="1.4" fill="none"/>
<text x="582.40" y="290.10" font-size="10.2" fill="#111" style="white-space:pre"><tspan font-size="11">γ</tspan><tspan dx="0.9"> =0.5 for nf</tspan></text>
<path d="M558.70 298.90H580.90" stroke="#ffff00" stroke-width="1.4" fill="none"/>
<text x="582.40" y="302.90" font-size="10.2" fill="#111" style="white-space:pre"><tspan font-size="11">γ</tspan><tspan dx="0.9"> =1.0 for nf</tspan></text>
<path d="M558.70 311.70H580.90" stroke="#ffff00" stroke-width="1.4" fill="none"/>
<text x="582.40" y="315.70" font-size="10.2" fill="#111" style="white-space:pre"><tspan font-size="11">γ</tspan><tspan dx="0.9"> =1.5 for nf</tspan></text>
<path d="M558.70 324.50H580.90" stroke="#ff0000" stroke-width="1.4" stroke-dasharray="4.7 3.9" fill="none"/>
<text x="582.40" y="328.50" font-size="10.2" fill="#111" style="white-space:pre"><tspan font-size="11">γ</tspan><tspan dx="0.9"> =0.5 for hnf</tspan></text>
<path d="M558.70 337.30H580.90" stroke="#ff0000" stroke-width="1.4" stroke-dasharray="4.7 3.9" fill="none"/>
<text x="582.40" y="341.30" font-size="10.2" fill="#111" style="white-space:pre"><tspan font-size="11">γ</tspan><tspan dx="0.9"> =1.0 for hnf</tspan></text>
<path d="M558.70 350.10H580.90" stroke="#ff0000" stroke-width="1.4" stroke-dasharray="4.7 3.9" fill="none"/>
<text x="582.40" y="354.10" font-size="10.2" fill="#111" style="white-space:pre"><tspan font-size="11">γ</tspan><tspan dx="0.9"> =1.5 for hnf</tspan></text>
<rect x="39.45" y="545.50" width="236.10" height="179.80" fill="none" stroke="#3a3a3a" stroke-width="0.55"/>
<text transform="translate(39.45 740.30) scale(1 1.14)" text-anchor="middle" font-size="11.5" font-weight="normal" fill="#262626">0</text>
<text transform="translate(98.48 740.30) scale(1 1.14)" text-anchor="middle" font-size="11.5" font-weight="normal" fill="#262626">2</text>
<text transform="translate(157.50 740.30) scale(1 1.14)" text-anchor="middle" font-size="11.5" font-weight="normal" fill="#262626">4</text>
<text transform="translate(216.53 740.30) scale(1 1.14)" text-anchor="middle" font-size="11.5" font-weight="normal" fill="#262626">6</text>
<text transform="translate(275.55 740.30) scale(1 1.14)" text-anchor="middle" font-size="11.5" font-weight="normal" fill="#262626">8</text>
<text transform="translate(34.55 729.30) scale(1 1.14)" text-anchor="end" font-size="11.5" font-weight="normal" fill="#262626">0</text>
<text transform="translate(34.55 689.52) scale(1 1.14)" text-anchor="end" font-size="11.5" font-weight="normal" fill="#262626">0.01</text>
<text transform="translate(34.55 649.74) scale(1 1.14)" text-anchor="end" font-size="11.5" font-weight="normal" fill="#262626">0.02</text>
<text transform="translate(34.55 609.96) scale(1 1.14)" text-anchor="end" font-size="11.5" font-weight="normal" fill="#262626">0.03</text>
<text transform="translate(34.55 570.18) scale(1 1.14)" text-anchor="end" font-size="11.5" font-weight="normal" fill="#262626">0.04</text>
<path d="M98.48 725.30v-2.6 M98.48 545.50v2.6 M157.50 725.30v-2.6 M157.50 545.50v2.6 M216.53 725.30v-2.6 M216.53 545.50v2.6 M39.45 685.52h2.6 M275.55 685.52h-2.6 M39.45 645.74h2.6 M275.55 645.74h-2.6 M39.45 605.96h2.6 M275.55 605.96h-2.6 M39.45 566.18h2.6 M275.55 566.18h-2.6" stroke="#262626" stroke-width="0.6" fill="none"/>
<text transform="translate(157.50 756.00) scale(1 1)" text-anchor="middle" font-size="12.8" font-style="italic" font-weight="normal" fill="#262626">ζ</text>
<text transform="translate(9.00 635.80) scale(1 1.12) rotate(-90)" text-anchor="middle" font-size="12.4" font-style="italic" font-weight="normal" fill="#262626">θ(ζ)</text>
<text x="315.00" y="759.10" text-anchor="middle" font-size="19" fill="#111">(e)</text>
<path d="M39.45 545.50 L39.47 545.80 L39.52 546.53 L39.60 547.64 L39.70 549.07 L39.82 550.81 L39.97 552.83 L40.13 555.10 L40.32 557.61 L40.52 560.33 L40.75 563.26 L40.99 566.36 L41.25 569.62 L41.53 573.02 L41.83 576.55 L42.15 580.18 L42.48 583.90 L42.83 587.70 L43.19 591.56 L43.57 595.46 L43.97 599.38 L44.39 603.33 L44.82 607.27 L45.27 611.21 L45.73 615.12 L46.21 618.99 L46.70 622.83 L47.21 626.61 L47.74 630.33 L48.28 633.99 L48.83 637.56 L49.41 641.06 L49.99 644.46 L50.59 647.78 L51.21 651.00 L51.84 654.11 L52.48 657.13 L53.14 660.04 L53.81 662.85 L54.50 665.55 L55.20 668.14 L55.92 670.63 L56.65 673.00 L57.39 675.28 L58.15 677.45 L58.92 679.51 L59.71 681.48 L60.51 683.35 L61.32 685.12 L62.15 686.80 L62.99 688.38 L63.84 689.88 L64.71 691.30 L65.59 692.63 L66.48 693.89 L67.39 695.07 L68.31 696.19 L69.25 697.23 L70.20 698.21 L71.16 699.12 L72.13 699.98 L73.12 700.79 L74.12 701.54 L75.13 702.24 L76.16 702.90 L77.19 703.52 L78.25 704.09 L79.31 704.63 L80.39 705.13 L81.48 705.60 L82.58 706.03 L83.70 706.44 L84.82 706.83 L85.96 707.19 L87.12 707.52 L88.28 707.84 L89.46 708.14 L90.65 708.42 L91.86 708.68 L93.07 708.94 L94.30 709.17 L95.54 709.40 L96.79 709.61 L98.06 709.82 L99.33 710.01 L100.62 710.20 L101.92 710.38 L103.24 710.55 L104.56 710.72 L105.90 710.88 L107.25 711.04 L108.61 711.20 L109.99 711.35 L111.37 711.49 L112.77 711.64 L114.18 711.78 L115.60 711.92 L117.04 712.06 L118.48 712.20 L119.94 712.34 L121.41 712.47 L122.89 712.61 L124.38 712.74 L125.89 712.88 L127.41 713.01 L128.93 713.14 L130.47 713.28 L132.03 713.41 L133.59 713.55 L135.16 713.68 L136.75 713.82 L138.35 713.95 L139.96 714.09 L141.58 714.22 L143.21 714.36 L144.86 714.50 L146.51 714.64 L148.18 714.78 L149.86 714.92 L151.55 715.06 L153.25 715.20 L154.96 715.34 L156.68 715.48 L158.42 715.63 L160.17 715.77 L161.92 715.92 L163.69 716.06 L165.47 716.21 L167.27 716.36 L169.07 716.51 L170.88 716.66 L172.71 716.81 L174.54 716.96 L176.39 717.11 L178.25 717.27 L180.12 717.42 L182.00 717.58 L183.89 717.73 L185.80 717.89 L187.71 718.05 L189.64 718.21 L191.57 718.37 L193.52 718.53 L195.48 718.69 L197.45 718.85 L199.43 719.02 L201.42 719.18 L203.42 719.35 L205.44 719.51 L207.46 719.68 L209.50 719.85 L211.54 720.02 L213.60 720.19 L215.67 720.36 L217.75 720.53 L219.84 720.70 L221.94 720.87 L224.05 721.05 L226.17 721.22 L228.30 721.40 L230.44 721.58 L232.60 721.75 L234.76 721.93 L236.94 722.11 L239.13 722.29 L241.32 722.47 L243.53 722.66 L245.75 722.84 L247.98 723.02 L250.22 723.21 L252.47 723.39 L254.73 723.58 L257.00 723.77 L259.28 723.96 L261.57 724.15 L263.88 724.34 L266.19 724.53 L268.51 724.72 L270.85 724.91 L273.19 725.11 L275.55 725.30" stroke="#ff0000" stroke-width="1.45" fill="none" stroke-linejoin="round" clip-path="url(#ce)"/>
<path d="M39.45 586.07 L39.47 586.36 L39.52 587.05 L39.60 588.09 L39.70 589.44 L39.82 591.07 L39.97 592.96 L40.13 595.08 L40.32 597.41 L40.52 599.94 L40.75 602.63 L40.99 605.47 L41.25 608.44 L41.53 611.52 L41.83 614.70 L42.15 617.94 L42.48 621.25 L42.83 624.60 L43.19 627.97 L43.57 631.35 L43.97 634.73 L44.39 638.09 L44.82 641.42 L45.27 644.71 L45.73 647.95 L46.21 651.13 L46.70 654.24 L47.21 657.28 L47.74 660.23 L48.28 663.10 L48.83 665.87 L49.41 668.55 L49.99 671.13 L50.59 673.60 L51.21 675.97 L51.84 678.24 L52.48 680.41 L53.14 682.47 L53.81 684.43 L54.50 686.29 L55.20 688.05 L55.92 689.71 L56.65 691.28 L57.39 692.75 L58.15 694.14 L58.92 695.44 L59.71 696.66 L60.51 697.80 L61.32 698.87 L62.15 699.86 L62.99 700.78 L63.84 701.65 L64.71 702.45 L65.59 703.19 L66.48 703.88 L67.39 704.52 L68.31 705.11 L69.25 705.66 L70.20 706.17 L71.16 706.63 L72.13 707.07 L73.12 707.47 L74.12 707.84 L75.13 708.19 L76.16 708.51 L77.19 708.81 L78.25 709.08 L79.31 709.34 L80.39 709.58 L81.48 709.81 L82.58 710.02 L83.70 710.21 L84.82 710.40 L85.96 710.57 L87.12 710.74 L88.28 710.90 L89.46 711.05 L90.65 711.20 L91.86 711.34 L93.07 711.47 L94.30 711.60 L95.54 711.73 L96.79 711.85 L98.06 711.97 L99.33 712.09 L100.62 712.20 L101.92 712.32 L103.24 712.43 L104.56 712.54 L105.90 712.65 L107.25 712.76 L108.61 712.87 L109.99 712.98 L111.37 713.09 L112.77 713.20 L114.18 713.31 L115.60 713.42 L117.04 713.53 L118.48 713.64 L119.94 713.75 L121.41 713.86 L122.89 713.97 L124.38 714.08 L125.89 714.20 L127.41 714.31 L128.93 714.43 L130.47 714.54 L132.03 714.66 L133.59 714.77 L135.16 714.89 L136.75 715.01 L138.35 715.13 L139.96 715.25 L141.58 715.37 L143.21 715.49 L144.86 715.61 L146.51 715.73 L148.18 715.86 L149.86 715.98 L151.55 716.11 L153.25 716.23 L154.96 716.36 L156.68 716.49 L158.42 716.62 L160.17 716.75 L161.92 716.88 L163.69 717.01 L165.47 717.14 L167.27 717.27 L169.07 717.41 L170.88 717.54 L172.71 717.68 L174.54 717.81 L176.39 717.95 L178.25 718.09 L180.12 718.23 L182.00 718.37 L183.89 718.51 L185.80 718.65 L187.71 718.79 L189.64 718.93 L191.57 719.07 L193.52 719.22 L195.48 719.36 L197.45 719.51 L199.43 719.66 L201.42 719.80 L203.42 719.95 L205.44 720.10 L207.46 720.25 L209.50 720.40 L211.54 720.56 L213.60 720.71 L215.67 720.86 L217.75 721.01 L219.84 721.17 L221.94 721.33 L224.05 721.48 L226.17 721.64 L228.30 721.80 L230.44 721.96 L232.60 722.12 L234.76 722.28 L236.94 722.44 L239.13 722.60 L241.32 722.76 L243.53 722.93 L245.75 723.09 L247.98 723.26 L250.22 723.42 L252.47 723.59 L254.73 723.76 L257.00 723.92 L259.28 724.09 L261.57 724.26 L263.88 724.43 L266.19 724.61 L268.51 724.78 L270.85 724.95 L273.19 725.13 L275.55 725.30" stroke="#000000" stroke-width="1.45" stroke-dasharray="4.4 3.8" fill="none" stroke-linejoin="round" clip-path="url(#ce)"/>
<path d="M54.70 707.20L77.77 688.29" stroke="#0000ff" stroke-width="1.2" fill="none"/>
<path d="M81.30 685.40L77.77 693.08L77.42 688.58L73.08 687.36Z" fill="#0000ff"/>
<rect x="139.2" y="638.6" width="51.60" height="45.60" fill="#fff"/>
<path d="M139.18 638.55 L140.46 640.77 L141.74 642.84 L143.01 644.78 L144.29 646.60 L145.57 648.31 L146.85 649.91 L148.12 651.41 L149.40 652.81 L150.68 654.12 L151.96 655.36 L153.24 656.51 L154.51 657.60 L155.79 658.61 L157.07 659.56 L158.35 660.45 L159.62 661.29 L160.90 662.07 L162.18 662.80 L163.46 663.49 L164.73 664.13 L166.01 664.73 L167.29 665.30 L168.57 665.83 L169.84 666.32 L171.12 666.79 L172.40 667.22 L173.68 667.63 L174.95 668.02 L176.23 668.37 L177.51 668.71 L178.79 669.02 L180.06 669.32 L181.34 669.60 L182.62 669.86 L183.90 670.10 L185.17 670.33 L186.45 670.54 L187.73 670.74 L189.01 670.93 L190.28 671.10" stroke="#ff0000" stroke-width="1.45" fill="none"/>
<path d="M139.18 658.52 L140.46 659.47 L141.74 660.36 L143.01 661.21 L144.29 662.01 L145.57 662.77 L146.85 663.49 L148.12 664.17 L149.40 664.82 L150.68 665.43 L151.96 666.00 L153.24 666.55 L154.51 667.07 L155.79 667.55 L157.07 668.02 L158.35 668.46 L159.62 668.87 L160.90 669.26 L162.18 669.63 L163.46 669.99 L164.73 670.32 L166.01 670.63 L167.29 670.93 L168.57 671.21 L169.84 671.48 L171.12 671.73 L172.40 671.97 L173.68 672.20 L174.95 672.41 L176.23 672.62 L177.51 672.81 L178.79 672.99 L180.06 673.16 L181.34 673.33 L182.62 673.48 L183.90 673.63 L185.17 673.76 L186.45 673.89 L187.73 674.02 L189.01 674.13 L190.28 674.25" stroke="#000000" stroke-width="1.4" stroke-dasharray="4.4 3.4" fill="none"/>
<rect x="139.2" y="638.6" width="51.60" height="45.60" fill="none" stroke="#0000ff" stroke-width="1"/>
<ellipse cx="168" cy="715.9" rx="7.0" ry="5.8" fill="none" stroke="#0000ff" stroke-width="0.9"/>
<path d="M168.10 710.00L167.12 689.45" stroke="#0000ff" stroke-width="1.6" stroke-dasharray="1.1 1.0" fill="none"/>
<path d="M166.90 684.90L170.46 692.34L167.14 689.91L164.07 692.64Z" fill="#0000ff"/>
<rect x="183.50" y="551.55" width="85.90" height="78.70" fill="#fff" stroke="#0000ff" stroke-width="0.9"/>
<path d="M185.40 558.60H207.80" stroke="#ff0000" stroke-width="1.4" fill="none"/>
<text x="209.20" y="562.60" font-size="10.2" fill="#111" style="white-space:pre"><tspan font-style="italic" font-size="11.5">β</tspan><tspan dx="0.7"> </tspan>= 0 for nf</text>
<path d="M185.40 571.52H207.80" stroke="#ff0000" stroke-width="1.4" fill="none"/>
<text x="209.20" y="575.52" font-size="10.2" fill="#111" style="white-space:pre"><tspan font-style="italic" font-size="11.5">β</tspan><tspan dx="0.7"> </tspan>= 45 for nf</text>
<path d="M185.40 584.44H207.80" stroke="#ff0000" stroke-width="1.4" fill="none"/>
<text x="209.20" y="588.44" font-size="10.2" fill="#111" style="white-space:pre"><tspan font-style="italic" font-size="11.5">β</tspan><tspan dx="0.7"> </tspan>= 90 for nf</text>
<path d="M185.40 597.36H207.80" stroke="#000000" stroke-width="1.4" stroke-dasharray="4.7 3.9" fill="none"/>
<text x="209.20" y="601.36" font-size="10.2" fill="#111" style="white-space:pre"><tspan font-style="italic" font-size="11.5">β</tspan><tspan dx="0.7"> </tspan>= 0 for hnf</text>
<path d="M185.40 610.28H207.80" stroke="#000000" stroke-width="1.4" stroke-dasharray="4.7 3.9" fill="none"/>
<text x="209.20" y="614.28" font-size="10.2" fill="#111" style="white-space:pre"><tspan font-style="italic" font-size="11.5">β</tspan><tspan dx="0.7"> </tspan>= 45 for hnf</text>
<path d="M185.40 623.20H207.80" stroke="#000000" stroke-width="1.4" stroke-dasharray="4.7 3.9" fill="none"/>
<text x="209.20" y="627.20" font-size="10.2" fill="#111" style="white-space:pre"><tspan font-style="italic" font-size="11.5">β</tspan><tspan dx="0.7"> </tspan>= 90 for hnf</text>
<rect x="403.60" y="545.50" width="234.70" height="178.80" fill="none" stroke="#3a3a3a" stroke-width="0.55"/>
<text transform="translate(403.60 739.30) scale(1 1.14)" text-anchor="middle" font-size="11.7" font-weight="bold" fill="#262626">0</text>
<text transform="translate(462.27 739.30) scale(1 1.14)" text-anchor="middle" font-size="11.7" font-weight="bold" fill="#262626">2</text>
<text transform="translate(520.95 739.30) scale(1 1.14)" text-anchor="middle" font-size="11.7" font-weight="bold" fill="#262626">4</text>
<text transform="translate(579.62 739.30) scale(1 1.14)" text-anchor="middle" font-size="11.7" font-weight="bold" fill="#262626">6</text>
<text transform="translate(638.30 739.30) scale(1 1.14)" text-anchor="middle" font-size="11.7" font-weight="bold" fill="#262626">8</text>
<text transform="translate(399.40 728.50) scale(1 1.14)" text-anchor="end" font-size="11.7" font-weight="bold" fill="#262626">0</text>
<text transform="translate(399.40 677.36) scale(1 1.14)" text-anchor="end" font-size="11.7" font-weight="bold" fill="#262626">0.05</text>
<text transform="translate(399.40 626.21) scale(1 1.14)" text-anchor="end" font-size="11.7" font-weight="bold" fill="#262626">0.1</text>
<text transform="translate(399.40 575.07) scale(1 1.14)" text-anchor="end" font-size="11.7" font-weight="bold" fill="#262626">0.15</text>
<path d="M462.27 724.30v-2.6 M462.27 545.50v2.6 M520.95 724.30v-2.6 M520.95 545.50v2.6 M579.62 724.30v-2.6 M579.62 545.50v2.6 M403.60 673.16h2.6 M638.30 673.16h-2.6 M403.60 622.01h2.6 M638.30 622.01h-2.6 M403.60 570.87h2.6 M638.30 570.87h-2.6" stroke="#262626" stroke-width="0.6" fill="none"/>
<text transform="translate(520.95 756.00) scale(1 1)" text-anchor="middle" font-size="12.8" font-style="italic" font-weight="bold" fill="#262626">ζ</text>
<text transform="translate(374.00 635.30) scale(1 1.12) rotate(-90)" text-anchor="middle" font-size="12.4" font-style="italic" font-weight="bold" fill="#262626">θ(ζ)</text>
<text x="675.80" y="757.00" text-anchor="middle" font-size="19" fill="#111">(f)</text>
<path d="M403.60 545.50 L403.62 545.58 L403.67 545.79 L403.75 546.10 L403.85 546.50 L403.97 547.00 L404.11 547.57 L404.28 548.23 L404.46 548.97 L404.67 549.77 L404.89 550.65 L405.13 551.60 L405.39 552.61 L405.67 553.69 L405.97 554.83 L406.28 556.02 L406.61 557.28 L406.96 558.58 L407.32 559.94 L407.70 561.34 L408.10 562.80 L408.51 564.30 L408.94 565.84 L409.38 567.42 L409.84 569.05 L410.32 570.71 L410.81 572.40 L411.32 574.13 L411.84 575.89 L412.38 577.67 L412.93 579.49 L413.50 581.33 L414.08 583.19 L414.68 585.07 L415.29 586.97 L415.91 588.90 L416.55 590.83 L417.21 592.78 L417.88 594.75 L418.56 596.72 L419.26 598.70 L419.97 600.69 L420.70 602.69 L421.43 604.69 L422.19 606.69 L422.96 608.70 L423.74 610.70 L424.53 612.70 L425.34 614.70 L426.16 616.70 L427.00 618.69 L427.85 620.67 L428.71 622.65 L429.58 624.62 L430.47 626.58 L431.38 628.52 L432.29 630.45 L433.22 632.38 L434.16 634.28 L435.12 636.17 L436.09 638.05 L437.07 639.91 L438.06 641.75 L439.07 643.57 L440.09 645.38 L441.12 647.16 L442.17 648.92 L443.22 650.67 L444.29 652.39 L445.38 654.09 L446.47 655.77 L447.58 657.43 L448.70 659.06 L449.84 660.67 L450.98 662.25 L452.14 663.81 L453.31 665.35 L454.50 666.86 L455.69 668.35 L456.90 669.81 L458.12 671.25 L459.36 672.67 L460.60 674.05 L461.86 675.42 L463.13 676.75 L464.41 678.06 L465.70 679.35 L467.01 680.61 L468.33 681.85 L469.66 683.06 L471.00 684.25 L472.35 685.41 L473.72 686.55 L475.10 687.66 L476.49 688.75 L477.89 689.81 L479.30 690.85 L480.73 691.87 L482.17 692.86 L483.61 693.83 L485.07 694.78 L486.55 695.70 L488.03 696.60 L489.53 697.48 L491.03 698.34 L492.55 699.18 L494.08 699.99 L495.63 700.79 L497.18 701.56 L498.75 702.31 L500.32 703.05 L501.91 703.76 L503.51 704.46 L505.12 705.14 L506.75 705.79 L508.38 706.44 L510.03 707.06 L511.68 707.66 L513.35 708.25 L515.03 708.82 L516.72 709.38 L518.42 709.92 L520.14 710.44 L521.86 710.95 L523.60 711.45 L525.35 711.93 L527.11 712.39 L528.88 712.84 L530.66 713.28 L532.45 713.71 L534.25 714.12 L536.07 714.52 L537.89 714.90 L539.73 715.28 L541.58 715.64 L543.44 716.00 L545.31 716.34 L547.19 716.67 L549.08 716.99 L550.98 717.30 L552.90 717.60 L554.82 717.90 L556.76 718.18 L558.71 718.45 L560.66 718.72 L562.63 718.97 L564.61 719.22 L566.60 719.46 L568.60 719.70 L570.62 719.92 L572.64 720.14 L574.67 720.35 L576.72 720.56 L578.77 720.75 L580.84 720.95 L582.92 721.13 L585.00 721.31 L587.10 721.49 L589.21 721.66 L591.33 721.82 L593.46 721.98 L595.60 722.13 L597.76 722.28 L599.92 722.42 L602.09 722.56 L604.28 722.70 L606.47 722.83 L608.67 722.96 L610.89 723.08 L613.12 723.20 L615.35 723.31 L617.60 723.43 L619.86 723.54 L622.13 723.64 L624.41 723.74 L626.70 723.84 L629.00 723.94 L631.31 724.03 L633.63 724.13 L635.96 724.21 L638.30 724.30" stroke="#0000ff" stroke-width="1.45" stroke-dasharray="4.7 3.8" stroke-dashoffset="-4.05" fill="none" stroke-linejoin="round" clip-path="url(#cf)"/>
<path d="M403.60 545.50 L403.62 545.58 L403.67 545.79 L403.75 546.10 L403.85 546.50 L403.97 547.00 L404.11 547.57 L404.28 548.23 L404.46 548.97 L404.67 549.77 L404.89 550.65 L405.13 551.60 L405.39 552.61 L405.67 553.69 L405.97 554.83 L406.28 556.02 L406.61 557.28 L406.96 558.58 L407.32 559.94 L407.70 561.34 L408.10 562.80 L408.51 564.30 L408.94 565.84 L409.38 567.42 L409.84 569.05 L410.32 570.71 L410.81 572.40 L411.32 574.13 L411.84 575.89 L412.38 577.67 L412.93 579.49 L413.50 581.33 L414.08 583.19 L414.68 585.07 L415.29 586.97 L415.91 588.90 L416.55 590.83 L417.21 592.78 L417.88 594.75 L418.56 596.72 L419.26 598.70 L419.97 600.69 L420.70 602.69 L421.43 604.69 L422.19 606.69 L422.96 608.70 L423.74 610.70 L424.53 612.70 L425.34 614.70 L426.16 616.70 L427.00 618.69 L427.85 620.67 L428.71 622.65 L429.58 624.62 L430.47 626.58 L431.38 628.52 L432.29 630.45 L433.22 632.38 L434.16 634.28 L435.12 636.17 L436.09 638.05 L437.07 639.91 L438.06 641.75 L439.07 643.57 L440.09 645.38 L441.12 647.16 L442.17 648.92 L443.22 650.67 L444.29 652.39 L445.38 654.09 L446.47 655.77 L447.58 657.43 L448.70 659.06 L449.84 660.67 L450.98 662.25 L452.14 663.81 L453.31 665.35 L454.50 666.86 L455.69 668.35 L456.90 669.81 L458.12 671.25 L459.36 672.67 L460.60 674.05 L461.86 675.42 L463.13 676.75 L464.41 678.06 L465.70 679.35 L467.01 680.61 L468.33 681.85 L469.66 683.06 L471.00 684.25 L472.35 685.41 L473.72 686.55 L475.10 687.66 L476.49 688.75 L477.89 689.81 L479.30 690.85 L480.73 691.87 L482.17 692.86 L483.61 693.83 L485.07 694.78 L486.55 695.70 L488.03 696.60 L489.53 697.48 L491.03 698.34 L492.55 699.18 L494.08 699.99 L495.63 700.79 L497.18 701.56 L498.75 702.31 L500.32 703.05 L501.91 703.76 L503.51 704.46 L505.12 705.14 L506.75 705.79 L508.38 706.44 L510.03 707.06 L511.68 707.66 L513.35 708.25 L515.03 708.82 L516.72 709.38 L518.42 709.92 L520.14 710.44 L521.86 710.95 L523.60 711.45 L525.35 711.93 L527.11 712.39 L528.88 712.84 L530.66 713.28 L532.45 713.71 L534.25 714.12 L536.07 714.52 L537.89 714.90 L539.73 715.28 L541.58 715.64 L543.44 716.00 L545.31 716.34 L547.19 716.67 L549.08 716.99 L550.98 717.30 L552.90 717.60 L554.82 717.90 L556.76 718.18 L558.71 718.45 L560.66 718.72 L562.63 718.97 L564.61 719.22 L566.60 719.46 L568.60 719.70 L570.62 719.92 L572.64 720.14 L574.67 720.35 L576.72 720.56 L578.77 720.75 L580.84 720.95 L582.92 721.13 L585.00 721.31 L587.10 721.49 L589.21 721.66 L591.33 721.82 L593.46 721.98 L595.60 722.13 L597.76 722.28 L599.92 722.42 L602.09 722.56 L604.28 722.70 L606.47 722.83 L608.67 722.96 L610.89 723.08 L613.12 723.20 L615.35 723.31 L617.60 723.43 L619.86 723.54 L622.13 723.64 L624.41 723.74 L626.70 723.84 L629.00 723.94 L631.31 724.03 L633.63 724.13 L635.96 724.21 L638.30 724.30" stroke="#ff0000" stroke-width="1.45" stroke-dasharray="4.3 4.2" fill="none" stroke-linejoin="round" clip-path="url(#cf)"/>
<path d="M403.60 573.94 L403.62 574.01 L403.67 574.21 L403.75 574.50 L403.85 574.87 L403.97 575.34 L404.11 575.88 L404.28 576.49 L404.46 577.18 L404.67 577.93 L404.89 578.75 L405.13 579.63 L405.39 580.58 L405.67 581.58 L405.97 582.64 L406.28 583.75 L406.61 584.91 L406.96 586.12 L407.32 587.38 L407.70 588.68 L408.10 590.02 L408.51 591.41 L408.94 592.83 L409.38 594.29 L409.84 595.78 L410.32 597.30 L410.81 598.86 L411.32 600.44 L411.84 602.04 L412.38 603.67 L412.93 605.33 L413.50 607.00 L414.08 608.69 L414.68 610.40 L415.29 612.12 L415.91 613.86 L416.55 615.60 L417.21 617.36 L417.88 619.12 L418.56 620.89 L419.26 622.66 L419.97 624.44 L420.70 626.22 L421.43 628.00 L422.19 629.77 L422.96 631.55 L423.74 633.32 L424.53 635.08 L425.34 636.84 L426.16 638.59 L427.00 640.34 L427.85 642.07 L428.71 643.79 L429.58 645.50 L430.47 647.19 L431.38 648.88 L432.29 650.54 L433.22 652.20 L434.16 653.83 L435.12 655.45 L436.09 657.05 L437.07 658.63 L438.06 660.19 L439.07 661.74 L440.09 663.26 L441.12 664.76 L442.17 666.24 L443.22 667.70 L444.29 669.14 L445.38 670.55 L446.47 671.95 L447.58 673.32 L448.70 674.66 L449.84 675.99 L450.98 677.29 L452.14 678.56 L453.31 679.82 L454.50 681.05 L455.69 682.25 L456.90 683.43 L458.12 684.59 L459.36 685.73 L460.60 686.84 L461.86 687.93 L463.13 688.99 L464.41 690.03 L465.70 691.05 L467.01 692.04 L468.33 693.01 L469.66 693.96 L471.00 694.89 L472.35 695.79 L473.72 696.68 L475.10 697.54 L476.49 698.38 L477.89 699.20 L479.30 699.99 L480.73 700.77 L482.17 701.53 L483.61 702.26 L485.07 702.98 L486.55 703.68 L488.03 704.36 L489.53 705.02 L491.03 705.66 L492.55 706.29 L494.08 706.90 L495.63 707.49 L497.18 708.06 L498.75 708.62 L500.32 709.16 L501.91 709.68 L503.51 710.19 L505.12 710.69 L506.75 711.17 L508.38 711.63 L510.03 712.08 L511.68 712.52 L513.35 712.94 L515.03 713.36 L516.72 713.76 L518.42 714.14 L520.14 714.52 L521.86 714.88 L523.60 715.23 L525.35 715.57 L527.11 715.90 L528.88 716.22 L530.66 716.53 L532.45 716.83 L534.25 717.12 L536.07 717.41 L537.89 717.68 L539.73 717.94 L541.58 718.20 L543.44 718.44 L545.31 718.68 L547.19 718.92 L549.08 719.14 L550.98 719.36 L552.90 719.57 L554.82 719.77 L556.76 719.97 L558.71 720.16 L560.66 720.34 L562.63 720.52 L564.61 720.70 L566.60 720.86 L568.60 721.03 L570.62 721.18 L572.64 721.34 L574.67 721.48 L576.72 721.63 L578.77 721.76 L580.84 721.90 L582.92 722.03 L585.00 722.16 L587.10 722.28 L589.21 722.40 L591.33 722.51 L593.46 722.62 L595.60 722.73 L597.76 722.84 L599.92 722.94 L602.09 723.04 L604.28 723.14 L606.47 723.23 L608.67 723.32 L610.89 723.41 L613.12 723.49 L615.35 723.58 L617.60 723.66 L619.86 723.74 L622.13 723.82 L624.41 723.89 L626.70 723.96 L629.00 724.03 L631.31 724.10 L633.63 724.17 L635.96 724.24 L638.30 724.30" stroke="#000000" stroke-width="1.45" stroke-dasharray="4.7 3.8" stroke-dashoffset="-4.05" fill="none" stroke-linejoin="round" clip-path="url(#cf)"/>
<path d="M403.60 573.94 L403.62 574.01 L403.67 574.21 L403.75 574.50 L403.85 574.87 L403.97 575.34 L404.11 575.88 L404.28 576.49 L404.46 577.18 L404.67 577.93 L404.89 578.75 L405.13 579.63 L405.39 580.58 L405.67 581.58 L405.97 582.64 L406.28 583.75 L406.61 584.91 L406.96 586.12 L407.32 587.38 L407.70 588.68 L408.10 590.02 L408.51 591.41 L408.94 592.83 L409.38 594.29 L409.84 595.78 L410.32 597.30 L410.81 598.86 L411.32 600.44 L411.84 602.04 L412.38 603.67 L412.93 605.33 L413.50 607.00 L414.08 608.69 L414.68 610.40 L415.29 612.12 L415.91 613.86 L416.55 615.60 L417.21 617.36 L417.88 619.12 L418.56 620.89 L419.26 622.66 L419.97 624.44 L420.70 626.22 L421.43 628.00 L422.19 629.77 L422.96 631.55 L423.74 633.32 L424.53 635.08 L425.34 636.84 L426.16 638.59 L427.00 640.34 L427.85 642.07 L428.71 643.79 L429.58 645.50 L430.47 647.19 L431.38 648.88 L432.29 650.54 L433.22 652.20 L434.16 653.83 L435.12 655.45 L436.09 657.05 L437.07 658.63 L438.06 660.19 L439.07 661.74 L440.09 663.26 L441.12 664.76 L442.17 666.24 L443.22 667.70 L444.29 669.14 L445.38 670.55 L446.47 671.95 L447.58 673.32 L448.70 674.66 L449.84 675.99 L450.98 677.29 L452.14 678.56 L453.31 679.82 L454.50 681.05 L455.69 682.25 L456.90 683.43 L458.12 684.59 L459.36 685.73 L460.60 686.84 L461.86 687.93 L463.13 688.99 L464.41 690.03 L465.70 691.05 L467.01 692.04 L468.33 693.01 L469.66 693.96 L471.00 694.89 L472.35 695.79 L473.72 696.68 L475.10 697.54 L476.49 698.38 L477.89 699.20 L479.30 699.99 L480.73 700.77 L482.17 701.53 L483.61 702.26 L485.07 702.98 L486.55 703.68 L488.03 704.36 L489.53 705.02 L491.03 705.66 L492.55 706.29 L494.08 706.90 L495.63 707.49 L497.18 708.06 L498.75 708.62 L500.32 709.16 L501.91 709.68 L503.51 710.19 L505.12 710.69 L506.75 711.17 L508.38 711.63 L510.03 712.08 L511.68 712.52 L513.35 712.94 L515.03 713.36 L516.72 713.76 L518.42 714.14 L520.14 714.52 L521.86 714.88 L523.60 715.23 L525.35 715.57 L527.11 715.90 L528.88 716.22 L530.66 716.53 L532.45 716.83 L534.25 717.12 L536.07 717.41 L537.89 717.68 L539.73 717.94 L541.58 718.20 L543.44 718.44 L545.31 718.68 L547.19 718.92 L549.08 719.14 L550.98 719.36 L552.90 719.57 L554.82 719.77 L556.76 719.97 L558.71 720.16 L560.66 720.34 L562.63 720.52 L564.61 720.70 L566.60 720.86 L568.60 721.03 L570.62 721.18 L572.64 721.34 L574.67 721.48 L576.72 721.63 L578.77 721.76 L580.84 721.90 L582.92 722.03 L585.00 722.16 L587.10 722.28 L589.21 722.40 L591.33 722.51 L593.46 722.62 L595.60 722.73 L597.76 722.84 L599.92 722.94 L602.09 723.04 L604.28 723.14 L606.47 723.23 L608.67 723.32 L610.89 723.41 L613.12 723.49 L615.35 723.58 L617.60 723.66 L619.86 723.74 L622.13 723.82 L624.41 723.89 L626.70 723.96 L629.00 724.03 L631.31 724.10 L633.63 724.17 L635.96 724.24 L638.30 724.30" stroke="#0000ff" stroke-width="1.45" stroke-dasharray="4.3 4.2" fill="none" stroke-linejoin="round" clip-path="url(#cf)"/>
<path d="M403.60 606.67 L403.62 606.75 L403.67 606.96 L403.75 607.27 L403.85 607.67 L403.97 608.16 L404.11 608.74 L404.28 609.39 L404.46 610.12 L404.67 610.92 L404.89 611.79 L405.13 612.72 L405.39 613.71 L405.67 614.76 L405.97 615.87 L406.28 617.02 L406.61 618.23 L406.96 619.48 L407.32 620.77 L407.70 622.11 L408.10 623.48 L408.51 624.88 L408.94 626.32 L409.38 627.79 L409.84 629.28 L410.32 630.80 L410.81 632.34 L411.32 633.89 L411.84 635.47 L412.38 637.06 L412.93 638.66 L413.50 640.27 L414.08 641.88 L414.68 643.51 L415.29 645.13 L415.91 646.76 L416.55 648.38 L417.21 650.00 L417.88 651.62 L418.56 653.23 L419.26 654.84 L419.97 656.43 L420.70 658.02 L421.43 659.59 L422.19 661.15 L422.96 662.69 L423.74 664.22 L424.53 665.73 L425.34 667.22 L426.16 668.69 L427.00 670.15 L427.85 671.58 L428.71 672.99 L429.58 674.37 L430.47 675.74 L431.38 677.08 L432.29 678.40 L433.22 679.69 L434.16 680.96 L435.12 682.20 L436.09 683.42 L437.07 684.61 L438.06 685.78 L439.07 686.92 L440.09 688.04 L441.12 689.13 L442.17 690.19 L443.22 691.23 L444.29 692.24 L445.38 693.23 L446.47 694.19 L447.58 695.13 L448.70 696.04 L449.84 696.93 L450.98 697.79 L452.14 698.63 L453.31 699.44 L454.50 700.23 L455.69 701.00 L456.90 701.75 L458.12 702.47 L459.36 703.18 L460.60 703.86 L461.86 704.52 L463.13 705.16 L464.41 705.78 L465.70 706.38 L467.01 706.96 L468.33 707.53 L469.66 708.07 L471.00 708.60 L472.35 709.11 L473.72 709.61 L475.10 710.08 L476.49 710.55 L477.89 711.00 L479.30 711.43 L480.73 711.85 L482.17 712.25 L483.61 712.64 L485.07 713.02 L486.55 713.39 L488.03 713.74 L489.53 714.08 L491.03 714.41 L492.55 714.73 L494.08 715.04 L495.63 715.34 L497.18 715.63 L498.75 715.91 L500.32 716.18 L501.91 716.44 L503.51 716.69 L505.12 716.94 L506.75 717.18 L508.38 717.41 L510.03 717.63 L511.68 717.84 L513.35 718.05 L515.03 718.25 L516.72 718.45 L518.42 718.64 L520.14 718.82 L521.86 719.00 L523.60 719.18 L525.35 719.34 L527.11 719.51 L528.88 719.67 L530.66 719.82 L532.45 719.97 L534.25 720.12 L536.07 720.26 L537.89 720.40 L539.73 720.53 L541.58 720.66 L543.44 720.79 L545.31 720.91 L547.19 721.03 L549.08 721.15 L550.98 721.26 L552.90 721.37 L554.82 721.48 L556.76 721.59 L558.71 721.69 L560.66 721.79 L562.63 721.89 L564.61 721.99 L566.60 722.08 L568.60 722.17 L570.62 722.26 L572.64 722.35 L574.67 722.44 L576.72 722.52 L578.77 722.60 L580.84 722.68 L582.92 722.76 L585.00 722.84 L587.10 722.92 L589.21 722.99 L591.33 723.06 L593.46 723.13 L595.60 723.20 L597.76 723.27 L599.92 723.34 L602.09 723.40 L604.28 723.47 L606.47 723.53 L608.67 723.59 L610.89 723.65 L613.12 723.71 L615.35 723.77 L617.60 723.83 L619.86 723.89 L622.13 723.94 L624.41 723.99 L626.70 724.05 L629.00 724.10 L631.31 724.15 L633.63 724.20 L635.96 724.25 L638.30 724.30" stroke="#ff0000" stroke-width="1.45" stroke-dasharray="4.7 3.8" stroke-dashoffset="-4.05" fill="none" stroke-linejoin="round" clip-path="url(#cf)"/>
<path d="M403.60 606.67 L403.62 606.75 L403.67 606.96 L403.75 607.27 L403.85 607.67 L403.97 608.16 L404.11 608.74 L404.28 609.39 L404.46 610.12 L404.67 610.92 L404.89 611.79 L405.13 612.72 L405.39 613.71 L405.67 614.76 L405.97 615.87 L406.28 617.02 L406.61 618.23 L406.96 619.48 L407.32 620.77 L407.70 622.11 L408.10 623.48 L408.51 624.88 L408.94 626.32 L409.38 627.79 L409.84 629.28 L410.32 630.80 L410.81 632.34 L411.32 633.89 L411.84 635.47 L412.38 637.06 L412.93 638.66 L413.50 640.27 L414.08 641.88 L414.68 643.51 L415.29 645.13 L415.91 646.76 L416.55 648.38 L417.21 650.00 L417.88 651.62 L418.56 653.23 L419.26 654.84 L419.97 656.43 L420.70 658.02 L421.43 659.59 L422.19 661.15 L422.96 662.69 L423.74 664.22 L424.53 665.73 L425.34 667.22 L426.16 668.69 L427.00 670.15 L427.85 671.58 L428.71 672.99 L429.58 674.37 L430.47 675.74 L431.38 677.08 L432.29 678.40 L433.22 679.69 L434.16 680.96 L435.12 682.20 L436.09 683.42 L437.07 684.61 L438.06 685.78 L439.07 686.92 L440.09 688.04 L441.12 689.13 L442.17 690.19 L443.22 691.23 L444.29 692.24 L445.38 693.23 L446.47 694.19 L447.58 695.13 L448.70 696.04 L449.84 696.93 L450.98 697.79 L452.14 698.63 L453.31 699.44 L454.50 700.23 L455.69 701.00 L456.90 701.75 L458.12 702.47 L459.36 703.18 L460.60 703.86 L461.86 704.52 L463.13 705.16 L464.41 705.78 L465.70 706.38 L467.01 706.96 L468.33 707.53 L469.66 708.07 L471.00 708.60 L472.35 709.11 L473.72 709.61 L475.10 710.08 L476.49 710.55 L477.89 711.00 L479.30 711.43 L480.73 711.85 L482.17 712.25 L483.61 712.64 L485.07 713.02 L486.55 713.39 L488.03 713.74 L489.53 714.08 L491.03 714.41 L492.55 714.73 L494.08 715.04 L495.63 715.34 L497.18 715.63 L498.75 715.91 L500.32 716.18 L501.91 716.44 L503.51 716.69 L505.12 716.94 L506.75 717.18 L508.38 717.41 L510.03 717.63 L511.68 717.84 L513.35 718.05 L515.03 718.25 L516.72 718.45 L518.42 718.64 L520.14 718.82 L521.86 719.00 L523.60 719.18 L525.35 719.34 L527.11 719.51 L528.88 719.67 L530.66 719.82 L532.45 719.97 L534.25 720.12 L536.07 720.26 L537.89 720.40 L539.73 720.53 L541.58 720.66 L543.44 720.79 L545.31 720.91 L547.19 721.03 L549.08 721.15 L550.98 721.26 L552.90 721.37 L554.82 721.48 L556.76 721.59 L558.71 721.69 L560.66 721.79 L562.63 721.89 L564.61 721.99 L566.60 722.08 L568.60 722.17 L570.62 722.26 L572.64 722.35 L574.67 722.44 L576.72 722.52 L578.77 722.60 L580.84 722.68 L582.92 722.76 L585.00 722.84 L587.10 722.92 L589.21 722.99 L591.33 723.06 L593.46 723.13 L595.60 723.20 L597.76 723.27 L599.92 723.34 L602.09 723.40 L604.28 723.47 L606.47 723.53 L608.67 723.59 L610.89 723.65 L613.12 723.71 L615.35 723.77 L617.60 723.83 L619.86 723.89 L622.13 723.94 L624.41 723.99 L626.70 724.05 L629.00 724.10 L631.31 724.15 L633.63 724.20 L635.96 724.25 L638.30 724.30" stroke="#000000" stroke-width="1.45" stroke-dasharray="4.3 4.2" fill="none" stroke-linejoin="round" clip-path="url(#cf)"/>
<path d="M474.00 667.00L436.99 698.07" stroke="#000000" stroke-width="0.95" fill="none"/>
<path d="M433.50 701.00L436.94 693.28L437.34 697.77L441.70 698.95Z" fill="#000000"/>
<rect x="547.60" y="551.55" width="84.80" height="101.25" fill="#fff" stroke="#262626" stroke-width="0.9"/>
<path d="M549.90 560.40H572.00" stroke="#0000ff" stroke-width="1.4" fill="none"/>
<text x="573.75" y="562.60" font-size="10.2" fill="#111" style="white-space:pre"><tspan font-style="italic">ϕ</tspan><tspan font-size="8.5" dx="0.5" dy="4.6">1</tspan><tspan dx="0.3" dy="-4.6">=</tspan><tspan font-style="italic" dx="1.1">ϕ</tspan><tspan font-size="8.5" dx="0.4" dy="4.6">2</tspan><tspan dx="0.6" dy="-4.6">=</tspan><tspan dx="0.2">0.0</tspan></text>
<path d="M549.90 577.05H572.00" stroke="#000000" stroke-width="1.4" fill="none"/>
<text x="573.75" y="579.25" font-size="10.2" fill="#111" style="white-space:pre"><tspan font-style="italic">ϕ</tspan><tspan font-size="8.5" dx="0.5" dy="4.6">1</tspan><tspan dx="0.3" dy="-4.6">=</tspan><tspan font-style="italic" dx="1.1">ϕ</tspan><tspan font-size="8.5" dx="0.4" dy="4.6">2</tspan><tspan dx="0.6" dy="-4.6">=</tspan><tspan dx="0.2">0.01</tspan></text>
<path d="M549.90 593.70H572.00" stroke="#ff0000" stroke-width="1.4" fill="none"/>
<text x="573.75" y="595.90" font-size="10.2" fill="#111" style="white-space:pre"><tspan font-style="italic">ϕ</tspan><tspan font-size="8.5" dx="0.5" dy="4.6">1</tspan><tspan dx="0.3" dy="-4.6">=</tspan><tspan font-style="italic" dx="1.1">ϕ</tspan><tspan font-size="8.5" dx="0.4" dy="4.6">2</tspan><tspan dx="0.6" dy="-4.6">=</tspan><tspan dx="0.2">0.025</tspan></text>
<path d="M549.90 610.35H572.00" stroke="#ff0000" stroke-width="1.4" stroke-dasharray="4.7 3.9" fill="none"/>
<text x="573.75" y="612.55" font-size="10.2" fill="#111" style="white-space:pre"><tspan font-style="italic">ϕ</tspan><tspan font-size="8.5" dx="0.5" dy="4.6">1</tspan><tspan dx="0.3" dy="-4.6">=</tspan><tspan font-style="italic" dx="1.1">ϕ</tspan><tspan font-size="8.5" dx="0.4" dy="4.6">2</tspan><tspan dx="0.6" dy="-4.6">=</tspan><tspan dx="0.2">0.0</tspan></text>
<path d="M549.90 627.00H572.00" stroke="#0000ff" stroke-width="1.4" stroke-dasharray="4.7 3.9" fill="none"/>
<text x="573.75" y="629.20" font-size="10.2" fill="#111" style="white-space:pre"><tspan font-style="italic">ϕ</tspan><tspan font-size="8.5" dx="0.5" dy="4.6">1</tspan><tspan dx="0.3" dy="-4.6">=</tspan><tspan font-style="italic" dx="1.1">ϕ</tspan><tspan font-size="8.5" dx="0.4" dy="4.6">2</tspan><tspan dx="0.6" dy="-4.6">=</tspan><tspan dx="0.2">0.01</tspan></text>
<path d="M549.90 643.65H572.00" stroke="#000000" stroke-width="1.4" stroke-dasharray="4.7 3.9" fill="none"/>
<text x="573.75" y="645.85" font-size="10.2" fill="#111" style="white-space:pre"><tspan font-style="italic">ϕ</tspan><tspan font-size="8.5" dx="0.5" dy="4.6">1</tspan><tspan dx="0.3" dy="-4.6">=</tspan><tspan font-style="italic" dx="1.1">ϕ</tspan><tspan font-size="8.5" dx="0.4" dy="4.6">2</tspan><tspan dx="0.6" dy="-4.6">=</tspan><tspan dx="0.2">0.025</tspan></text>
</svg>
</body></html>
